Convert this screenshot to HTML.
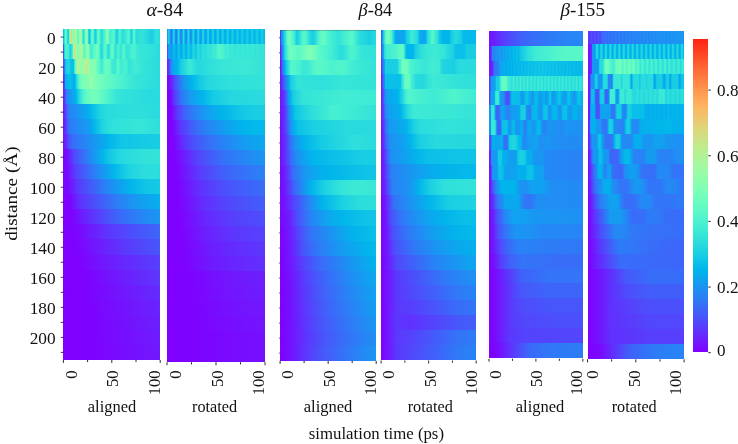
<!DOCTYPE html>
<html lang="en">
<head>
<meta charset="utf-8">
<title>Heatmaps: distance vs simulation time</title>
<style>
html,body{margin:0;padding:0;background:#fff;}
body{width:738px;height:444px;overflow:hidden;position:relative;font-family:"Liberation Serif",serif;}
#fig{position:absolute;left:0;top:0;width:738px;height:444px;background:#fff;overflow:hidden;}
.r{position:absolute;}
.ov{position:absolute;left:0;top:0;}
</style>
</head>
<body>
<div id="fig">
<div class="r" style="left:63.40px;top:29.30px;width:96.80px;height:15.61px;background:linear-gradient(90deg,#00b4ec 0%,#19cee3 1.031%,#2ddfdc 1.546%,#52f5cc 2.062%,#66fcc2 2.577%,#60fac5 3.093%,#3ce9d6 4.124%,#29dcdd 4.639%,#1cd1e2 5.155%,#1cd1e2 5.67%,#39e7d7 6.186%,#69fdc0 6.701%,#9efba3 7.216%,#c9e587 7.732%,#dbd77b 8.247%,#d2de81 8.763%,#a1faa1 9.794%,#8afeaf 10.31%,#80ffb4 10.82%,#85ffb1 11.34%,#b0f498 12.89%,#b1f397 13.4%,#9efba3 13.92%,#80ffb4 14.43%,#64fbc3 14.95%,#57f7c9 15.46%,#5ffac5 15.98%,#90feab 17.01%,#a8f79d 17.53%,#b2f396 18.04%,#a8f79c 18.56%,#8dfead 19.07%,#69fdc0 19.59%,#47efd1 20.1%,#2ee0db 20.62%,#2adcdd 21.13%,#34e4d9 21.65%,#48f0d0 22.16%,#61fbc4 22.68%,#8efeac 23.71%,#98fca6 24.23%,#92fdaa 24.74%,#75feba 25.26%,#4ef3ce 25.77%,#27dade 26.29%,#0ec3e7 26.8%,#0cc1e8 27.32%,#18cde4 27.84%,#43eed3 28.87%,#57f7c9 29.38%,#64fbc3 29.9%,#65fcc3 30.41%,#5bf9c7 30.93%,#39e7d7 31.96%,#1cd1e2 32.99%,#1acfe3 33.51%,#22d6e0 34.02%,#54f6cb 35.57%,#61fbc4 36.08%,#66fcc2 36.6%,#62fbc4 37.11%,#3ce9d6 38.66%,#29dcdd 39.69%,#2adcdd 40.21%,#49f1d0 42.27%,#50f4cd 43.3%,#7dffb6 44.85%,#88ffb0 45.36%,#89ffaf 45.88%,#7effb5 46.39%,#4bf2cf 47.94%,#43edd3 48.45%,#49f1d0 50%,#56f7ca 52.06%,#56f7ca 52.58%,#3febd4 53.61%,#21d5e0 54.64%,#1acfe3 55.15%,#1cd0e2 55.67%,#2edfdb 56.7%,#44eed2 57.73%,#4bf2cf 58.25%,#4cf2cf 58.76%,#3febd4 59.79%,#2ddfdc 60.82%,#29dcdd 61.34%,#3dead5 64.95%,#57f7ca 67.53%,#54f6cb 68.04%,#39e8d7 69.07%,#1ed2e2 70.1%,#1acee3 70.62%,#21d5e0 71.13%,#43eed3 72.16%,#52f5cc 72.68%,#57f7ca 73.2%,#52f5cc 73.71%,#30e1db 75.26%,#29dcdd 75.77%,#33e3d9 80.93%,#21d5e0 88.66%,#1acee3 91.75%,#25d9df 93.81%,#33e3d9 95.88%,#29dbde 100%)"></div>
<div class="r" style="left:63.40px;top:44.31px;width:96.80px;height:15.61px;background:linear-gradient(90deg,#4c4ffc 0%,#445bfb 0.5155%,#366ff9 1.031%,#22d6e0 1.546%,#43eed2 2.062%,#4cf3ce 3.608%,#42edd3 5.67%,#3ae8d6 6.186%,#1bd0e3 7.216%,#1bd0e3 7.732%,#2edfdb 8.763%,#33e3d9 9.278%,#43eed2 9.794%,#6cfdbf 10.31%,#9dfba3 10.82%,#c4e98a 11.34%,#d1e082 11.86%,#cbe486 12.37%,#adf599 13.4%,#8cfead 14.43%,#82ffb3 14.95%,#80ffb4 15.46%,#8dfeac 16.49%,#acf59a 18.04%,#b2f396 18.56%,#b1f397 19.07%,#a4f99f 19.59%,#79ffb8 20.62%,#65fcc3 21.13%,#58f8c9 21.65%,#58f7c9 22.16%,#6cfdbf 23.2%,#94fda9 24.74%,#99fca6 25.26%,#95fda8 25.77%,#7affb7 26.8%,#47f0d1 28.35%,#3eebd5 28.87%,#42edd3 29.9%,#59f8c9 31.44%,#63fbc3 33.51%,#70febd 35.57%,#6efdbe 36.08%,#59f8c8 37.11%,#30e1db 38.66%,#27dade 39.18%,#24d7df 39.69%,#27dade 40.21%,#50f4cd 42.27%,#5cf9c7 43.3%,#53f6cb 44.33%,#2ddfdc 46.39%,#29dcdd 46.91%,#2bdddd 47.42%,#3eebd5 48.45%,#58f7c9 49.48%,#66fcc2 50.52%,#64fbc3 51.03%,#52f5cc 52.06%,#32e3da 53.61%,#2ee0db 54.12%,#37e6d8 55.15%,#48f0d0 56.19%,#4bf2cf 57.22%,#33e3d9 59.79%,#36e6d8 60.31%,#4ef3cd 61.34%,#56f7ca 61.86%,#52f5cc 62.89%,#35e5d8 65.46%,#36e6d8 67.53%,#4cf2cf 71.65%,#49f1d0 73.71%,#38e7d7 77.32%,#2ee0db 93.81%,#29dbde 100%)"></div>
<div class="r" style="left:63.40px;top:59.33px;width:96.80px;height:15.61px;background:linear-gradient(90deg,#573ffd 0%,#4e4cfc 0.5155%,#3e64fa 1.031%,#3373f8 1.546%,#02b2ec 2.062%,#10c5e6 2.577%,#24d7df 5.67%,#1bd0e3 6.701%,#0dc2e7 7.732%,#0abfe8 10.31%,#0bc0e8 10.82%,#1bd0e3 11.34%,#3ae8d7 11.86%,#58f7c9 12.37%,#66fcc2 12.89%,#6efebe 13.4%,#9dfba3 14.43%,#b3f296 14.95%,#bded8f 15.46%,#b2f396 16.49%,#92fdaa 18.04%,#8bfeae 18.56%,#8dfead 19.59%,#a6f89e 21.65%,#b1f397 23.2%,#bfec8e 24.23%,#c2ea8c 24.74%,#bfec8e 25.26%,#a9f79c 26.29%,#84ffb2 27.84%,#80ffb4 28.87%,#8afeaf 32.47%,#83ffb2 33.51%,#5efac6 36.08%,#56f7ca 37.63%,#3eebd5 39.69%,#3dead5 40.21%,#49f1d0 41.24%,#62fbc4 42.78%,#66fcc2 43.81%,#64fbc3 47.94%,#40ecd4 50.52%,#38e7d7 53.61%,#40ecd4 54.64%,#58f7c9 56.19%,#5cf9c7 56.7%,#55f6ca 57.73%,#3dead5 59.79%,#4cf2ce 63.92%,#46efd1 65.46%,#35e4d9 67.53%,#36e6d8 70.1%,#42edd3 74.23%,#33e3d9 83.51%,#29dbde 100%)"></div>
<div class="r" style="left:63.40px;top:74.34px;width:96.80px;height:15.61px;background:linear-gradient(90deg,#7018ff 0%,#425efa 2.062%,#01b4ec 2.577%,#0abfe8 7.216%,#00b4ec 9.794%,#09aaee 11.86%,#05aeed 12.37%,#09bee9 12.89%,#32e3da 14.43%,#5df9c6 17.01%,#6efebe 18.56%,#7fffb5 20.62%,#80ffb4 25.77%,#99fca6 28.35%,#7fffb5 32.47%,#5af8c8 51.03%,#37e6d8 74.23%,#29dbde 100%)"></div>
<div class="r" style="left:63.40px;top:89.35px;width:96.80px;height:15.61px;background:linear-gradient(90deg,#7018ff 0%,#573ffd 2.062%,#2982f6 3.608%,#02b2ec 12.89%,#00b4ec 13.4%,#1ed3e1 15.98%,#46efd1 20.1%,#61fac5 23.71%,#73febb 30.93%,#73febb 34.02%,#52f5cc 45.36%,#3ae8d7 53.61%,#31e2da 61.86%,#29dbde 89.18%,#29dbde 100%)"></div>
<div class="r" style="left:63.40px;top:104.37px;width:96.80px;height:15.61px;background:linear-gradient(90deg,#7510ff 0%,#6130fe 2.062%,#3d65fa 4.124%,#2982f6 6.186%,#0ca6ef 23.71%,#00b4ec 27.32%,#21d5e0 38.66%,#29dcdd 45.36%,#2edfdb 76.29%,#29dbde 100%)"></div>
<div class="r" style="left:63.40px;top:119.38px;width:96.80px;height:15.61px;background:linear-gradient(90deg,#7510ff 0%,#6130fe 2.577%,#425efb 4.639%,#2e7bf7 7.216%,#139ff1 27.32%,#01b5eb 31.96%,#21d5e1 41.24%,#2ee0db 48.45%,#37e6d8 79.9%,#2edfdb 100%)"></div>
<div class="r" style="left:63.40px;top:134.40px;width:96.80px;height:15.61px;background:linear-gradient(90deg,#7510ff 0%,#6628fe 3.093%,#4d4ffc 5.67%,#376ef9 9.794%,#09aaee 43.3%,#01b6eb 47.94%,#10c5e7 59.79%,#19cee3 100%)"></div>
<div class="r" style="left:63.40px;top:149.41px;width:96.80px;height:15.61px;background:linear-gradient(90deg,#7a08ff 0%,#7a08ff 3.093%,#4b51fc 12.89%,#1d91f3 30.41%,#05afed 39.18%,#01b5eb 40.72%,#0fc4e7 45.88%,#25d8df 58.25%,#32e2da 84.02%,#33e3d9 100%)"></div>
<div class="r" style="left:63.40px;top:164.42px;width:96.80px;height:15.61px;background:linear-gradient(90deg,#7a08ff 0%,#7a08ff 4.124%,#5641fd 12.89%,#2e7bf7 30.93%,#07adee 48.97%,#01b5eb 52.06%,#1cd1e2 66.49%,#2adcdd 80.93%,#2cdedc 95.88%,#29dbde 100%)"></div>
<div class="r" style="left:63.40px;top:179.44px;width:96.80px;height:15.61px;background:linear-gradient(90deg,#7a08ff 0%,#7a08ff 5.155%,#5b39fd 14.95%,#2488f5 46.39%,#00b5eb 69.59%,#10c5e6 85.05%,#14c9e5 100%)"></div>
<div class="r" style="left:63.40px;top:194.45px;width:96.80px;height:15.61px;background:linear-gradient(90deg,#8000ff 0%,#7e02ff 6.701%,#6031fe 17.01%,#2d7df7 55.15%,#149df1 78.35%,#05afed 100%)"></div>
<div class="r" style="left:63.40px;top:209.46px;width:96.80px;height:15.61px;background:linear-gradient(90deg,#8000ff 0%,#7f01ff 8.763%,#6529fe 25.26%,#3e64fa 55.67%,#218cf4 86.6%,#1a96f3 100%)"></div>
<div class="r" style="left:63.40px;top:224.48px;width:96.80px;height:15.61px;background:linear-gradient(90deg,#8000ff 0%,#7d03ff 12.37%,#5c37fe 47.42%,#445bfb 84.54%,#3d65fa 100%)"></div>
<div class="r" style="left:63.40px;top:239.49px;width:96.80px;height:15.61px;background:linear-gradient(90deg,#8000ff 0%,#7e03ff 14.95%,#5b39fd 63.92%,#4756fb 100%)"></div>
<div class="r" style="left:63.40px;top:254.50px;width:96.80px;height:15.61px;background:linear-gradient(90deg,#8000ff 0%,#7e02ff 17.53%,#6d1dff 47.94%,#5b38fd 87.11%,#573ffd 100%)"></div>
<div class="r" style="left:63.40px;top:269.52px;width:96.80px;height:15.61px;background:linear-gradient(90deg,#8000ff 0%,#7e02ff 23.71%,#5c38fd 100%)"></div>
<div class="r" style="left:63.40px;top:284.53px;width:96.80px;height:15.61px;background:linear-gradient(90deg,#8000ff 0%,#7e02ff 24.74%,#632cfe 100%)"></div>
<div class="r" style="left:63.40px;top:299.55px;width:96.80px;height:15.61px;background:linear-gradient(90deg,#8000ff 0%,#7d03ff 28.35%,#6924fe 100%)"></div>
<div class="r" style="left:63.40px;top:314.56px;width:96.80px;height:15.61px;background:linear-gradient(90deg,#8000ff 0%,#7d03ff 28.87%,#6b20fe 100%)"></div>
<div class="r" style="left:63.40px;top:329.57px;width:96.80px;height:15.61px;background:linear-gradient(90deg,#8000ff 0%,#7d03ff 30.41%,#6e1cff 100%)"></div>
<div class="r" style="left:63.40px;top:344.59px;width:96.80px;height:15.01px;background:linear-gradient(90deg,#8000ff 0%,#7d03ff 31.96%,#7018ff 100%)"></div>
<div class="r" style="left:167.00px;top:29.15px;width:98.00px;height:15.72px;background:linear-gradient(90deg,#3078f7 0%,#169af2 0.5102%,#07bbea 1.02%,#1bcfe3 1.531%,#1fd3e1 2.041%,#11c6e6 2.551%,#09aaee 3.061%,#2489f5 3.571%,#3670f8 4.082%,#376ef9 4.592%,#2784f6 5.102%,#0da6ef 5.612%,#0ec4e7 6.122%,#1fd3e1 6.633%,#1fd4e1 7.143%,#0fc4e7 7.653%,#0ba8ef 8.163%,#2489f5 8.673%,#3275f8 9.184%,#3079f7 9.694%,#1e91f4 10.2%,#03b1ed 10.71%,#15cbe5 11.22%,#23d6e0 11.73%,#20d4e1 12.24%,#0ec3e7 12.76%,#0ca7ef 13.27%,#238af5 13.78%,#2d7cf7 14.29%,#2883f6 14.8%,#149cf1 15.31%,#06baea 15.82%,#1bd0e2 16.33%,#25d8df 16.84%,#1fd3e1 17.35%,#0cc1e8 17.86%,#0da6ef 18.37%,#208ef4 18.88%,#2784f6 19.39%,#1f8ff4 19.9%,#0ba8ef 20.41%,#0dc2e8 20.92%,#1fd3e1 21.43%,#25d8df 21.94%,#1cd1e2 22.45%,#09bee9 22.96%,#0da5ef 23.47%,#1d91f3 23.98%,#218cf4 24.49%,#1799f2 25%,#04b0ed 25.51%,#11c7e6 26.02%,#20d4e1 26.53%,#23d6e0 27.04%,#18cde4 27.55%,#06baea 28.06%,#0ea4f0 28.57%,#1a95f3 29.08%,#1b94f3 29.59%,#10a2f0 30.1%,#02b7eb 30.61%,#15cae5 31.12%,#20d4e1 31.63%,#20d4e1 32.14%,#15cae5 32.65%,#03b8eb 33.16%,#0ea4ef 33.67%,#1799f2 34.18%,#169bf2 34.69%,#0aa9ee 35.2%,#08bde9 35.71%,#18cde4 36.22%,#20d5e1 36.73%,#1ed3e2 37.24%,#02b6eb 38.27%,#0da5ef 38.78%,#149df1 39.29%,#10a1f0 39.8%,#04b0ed 40.31%,#0cc2e8 40.82%,#1acfe3 41.33%,#20d4e1 41.84%,#1cd1e2 42.35%,#01b5eb 43.37%,#0ba7ef 43.88%,#10a2f0 44.39%,#0ba8ef 44.9%,#02b6eb 45.41%,#10c6e6 45.92%,#1cd0e2 46.43%,#1fd3e1 46.94%,#1acfe3 47.45%,#01b5eb 48.47%,#09aaee 48.98%,#0ba7ef 49.49%,#05aeed 50%,#07bcea 50.51%,#1cd1e2 51.53%,#1ed2e2 52.04%,#18cde4 52.55%,#00b5ec 53.57%,#07acee 54.08%,#08abee 54.59%,#01b3ec 55.1%,#15cae5 56.12%,#1cd0e2 56.63%,#1cd0e2 57.14%,#0abfe8 58.16%,#00b4ec 58.67%,#06aded 59.18%,#05aeed 59.69%,#02b6eb 60.2%,#16cbe4 61.22%,#1bd0e3 61.73%,#12c7e6 62.76%,#00b4ec 63.78%,#04afed 64.29%,#05baea 65.31%,#16cbe4 66.33%,#17cce4 67.35%,#00b4ec 68.88%,#01b5eb 69.9%,#16cbe4 71.43%,#15cae5 72.45%,#00b5eb 73.98%,#01b3ec 74.49%,#09bfe9 75.51%,#17cce4 76.53%,#14c9e5 77.55%,#00b5eb 79.08%,#00b4ec 79.59%,#17cce4 81.63%,#13c8e6 82.65%,#01b5eb 84.18%,#06bbea 85.2%,#14c9e5 86.22%,#16cbe4 87.24%,#01b6eb 89.29%,#08bde9 90.31%,#15cae5 91.33%,#15cbe5 92.35%,#04b9ea 93.88%,#02b6eb 94.39%,#09bfe9 95.41%,#15cae5 96.43%,#15cae5 97.45%,#04b8ea 98.98%,#05baea 100%)"></div>
<div class="r" style="left:167.00px;top:44.27px;width:98.00px;height:15.72px;background:linear-gradient(90deg,#6628fe 0%,#3276f8 1.02%,#139ef1 1.531%,#0ba8ef 2.551%,#169bf2 3.571%,#1b94f3 4.082%,#1b94f3 4.592%,#159bf1 5.102%,#01b5eb 6.122%,#0bc0e8 7.143%,#00b4ec 8.163%,#0fa3f0 9.184%,#0fa2f0 9.694%,#01b3ec 10.71%,#0ec4e7 11.73%,#0fc5e7 12.24%,#03b8eb 13.27%,#09aaee 14.29%,#09aaee 14.8%,#03b1ec 15.31%,#06bbea 15.82%,#15cae5 16.84%,#10c5e7 17.86%,#01b6eb 18.88%,#02b2ec 19.39%,#00b4ec 19.9%,#18cde4 21.43%,#1bd0e3 22.45%,#08bde9 23.98%,#09bee9 25%,#20d4e1 26.53%,#24d7df 27.04%,#1dd2e2 28.06%,#13c8e6 29.08%,#16cbe4 30.1%,#2adcdd 31.63%,#2adddd 32.65%,#1ed2e2 34.18%,#22d5e0 35.2%,#2fe1db 36.73%,#2bdddd 38.27%,#27dade 39.8%,#35e4d9 41.84%,#31e2da 44.9%,#3eebd5 46.94%,#3be9d6 49.49%,#53f5cb 52.04%,#55f6ca 53.57%,#4ef3ce 55.1%,#4ef3ce 57.14%,#3dead5 59.69%,#42edd3 62.24%,#36e6d8 64.8%,#3ce9d6 67.35%,#34e4d9 69.39%,#3be9d6 72.45%,#35e5d9 75%,#3be9d6 77.55%,#35e4d9 79.59%,#3be9d6 82.14%,#34e4d9 84.69%,#3ae8d7 87.24%,#33e3d9 89.8%,#38e7d7 92.35%,#32e2da 94.9%,#36e5d8 97.45%,#31e2da 100%)"></div>
<div class="r" style="left:167.00px;top:59.40px;width:98.00px;height:15.73px;background:linear-gradient(90deg,#7018ff 0%,#573ffd 2.041%,#2489f5 4.082%,#0fa3f0 6.122%,#01b3ec 10.71%,#16cbe4 13.78%,#3dead5 23.47%,#24d8df 31.12%,#37e6d8 54.59%,#3ce9d6 80.1%,#33e3d9 100%)"></div>
<div class="r" style="left:167.00px;top:74.53px;width:98.00px;height:15.72px;background:linear-gradient(90deg,#8000ff 0%,#7510ff 3.061%,#4a53fc 8.673%,#1996f3 17.35%,#00b5eb 25.51%,#15cae5 33.67%,#25d8df 42.35%,#2ee0db 60.71%,#33e3d9 100%)"></div>
<div class="r" style="left:167.00px;top:89.65px;width:98.00px;height:15.72px;background:linear-gradient(90deg,#8000ff 0%,#8000ff 3.061%,#5444fd 8.673%,#3176f8 14.8%,#179af2 23.98%,#01b5eb 36.22%,#16cbe4 47.45%,#25d8df 65.31%,#29dbde 93.88%,#29dbde 100%)"></div>
<div class="r" style="left:167.00px;top:104.78px;width:98.00px;height:15.72px;background:linear-gradient(90deg,#8000ff 0%,#8000ff 4.082%,#5a3bfd 10.71%,#3c67fa 18.88%,#1f8ff4 33.67%,#0ca7ef 45.92%,#01b5eb 57.14%,#14c9e5 78.57%,#19cee3 92.86%,#19cee3 100%)"></div>
<div class="r" style="left:167.00px;top:119.90px;width:98.00px;height:15.72px;background:linear-gradient(90deg,#8000ff 0%,#8000ff 5.102%,#5e34fe 13.27%,#425ffa 25.51%,#2b7ff6 38.27%,#09aaee 67.35%,#00b5eb 78.57%,#05baea 100%)"></div>
<div class="r" style="left:167.00px;top:135.03px;width:98.00px;height:15.72px;background:linear-gradient(90deg,#8000ff 0%,#8000ff 6.122%,#612ffe 16.33%,#4a52fc 27.04%,#3374f8 45.92%,#169af2 76.02%,#0ba8ef 98.98%,#0aa9ef 100%)"></div>
<div class="r" style="left:167.00px;top:150.15px;width:98.00px;height:15.72px;background:linear-gradient(90deg,#8000ff 0%,#7f01ff 7.653%,#5247fc 32.65%,#3571f8 57.14%,#228bf4 84.18%,#1996f3 100%)"></div>
<div class="r" style="left:167.00px;top:165.28px;width:98.00px;height:15.72px;background:linear-gradient(90deg,#8000ff 0%,#7e02ff 9.184%,#593dfd 33.67%,#4062fa 58.67%,#2e7bf7 88.78%,#2982f6 100%)"></div>
<div class="r" style="left:167.00px;top:180.40px;width:98.00px;height:15.72px;background:linear-gradient(90deg,#8000ff 0%,#7e02ff 10.71%,#5e34fe 35.71%,#4b51fc 59.18%,#3d66fa 88.27%,#386df9 100%)"></div>
<div class="r" style="left:167.00px;top:195.53px;width:98.00px;height:15.72px;background:linear-gradient(90deg,#8000ff 0%,#7e02ff 11.73%,#622efe 37.76%,#5148fc 62.76%,#445bfb 94.39%,#425efa 100%)"></div>
<div class="r" style="left:167.00px;top:210.65px;width:98.00px;height:15.72px;background:linear-gradient(90deg,#8000ff 0%,#7e02ff 13.27%,#6727fe 39.29%,#583efd 65.82%,#4c4ffc 100%)"></div>
<div class="r" style="left:167.00px;top:225.78px;width:98.00px;height:15.72px;background:linear-gradient(90deg,#8000ff 0%,#7e02ff 14.8%,#6a22fe 40.82%,#5d36fe 68.88%,#5443fd 100%)"></div>
<div class="r" style="left:167.00px;top:240.90px;width:98.00px;height:15.72px;background:linear-gradient(90deg,#8000ff 0%,#7e02ff 16.33%,#6c1eff 44.9%,#612ffe 74.49%,#5c38fd 100%)"></div>
<div class="r" style="left:167.00px;top:256.02px;width:98.00px;height:15.72px;background:linear-gradient(90deg,#8000ff 0%,#7e02ff 17.86%,#6f1aff 45.92%,#642bfe 83.16%,#6130fe 100%)"></div>
<div class="r" style="left:167.00px;top:271.15px;width:98.00px;height:15.72px;background:linear-gradient(90deg,#8000ff 0%,#7e02ff 23.98%,#7215ff 57.65%,#6b20fe 100%)"></div>
<div class="r" style="left:167.00px;top:286.27px;width:98.00px;height:15.72px;background:linear-gradient(90deg,#8000ff 0%,#7e02ff 24.49%,#7314ff 62.24%,#6e1cff 100%)"></div>
<div class="r" style="left:167.00px;top:301.40px;width:98.00px;height:15.72px;background:linear-gradient(90deg,#8000ff 0%,#7d03ff 27.04%,#7412ff 67.35%,#7018ff 100%)"></div>
<div class="r" style="left:167.00px;top:316.52px;width:98.00px;height:15.72px;background:linear-gradient(90deg,#8000ff 0%,#7d03ff 28.57%,#7511ff 77.55%,#7314ff 100%)"></div>
<div class="r" style="left:167.00px;top:331.65px;width:98.00px;height:15.72px;background:linear-gradient(90deg,#8000ff 0%,#7d03ff 30.61%,#760eff 83.67%,#7510ff 100%)"></div>
<div class="r" style="left:167.00px;top:346.77px;width:98.00px;height:15.12px;background:linear-gradient(90deg,#8000ff 0%,#7d03ff 30.61%,#760eff 83.67%,#7510ff 100%)"></div>
<div class="r" style="left:280.10px;top:30.30px;width:96.10px;height:15.62px;background:linear-gradient(90deg,#6628fe 0%,#5a3afd 0.5208%,#2586f5 1.562%,#1996f3 2.083%,#11a0f0 2.604%,#00b4ec 3.125%,#12c7e6 3.646%,#1acee3 4.167%,#1cd1e2 4.688%,#30e1db 5.729%,#5af8c8 7.292%,#70febd 8.333%,#75feba 9.375%,#62fbc4 11.46%,#4ef3ce 13.54%,#4af1d0 14.58%,#2ddfdc 16.15%,#1cd1e2 17.19%,#1acfe3 18.23%,#2cdedc 20.31%,#50f4cd 23.44%,#57f7c9 25%,#4ef3cd 27.08%,#1fd4e1 32.29%,#1acfe3 34.38%,#24d8df 36.46%,#50f4cd 40.62%,#64fbc3 43.23%,#65fcc3 45.31%,#43eed2 53.13%,#3ce9d6 56.77%,#33e3d9 60.94%,#41edd3 66.67%,#56f7ca 73.44%,#54f6cb 76.04%,#37e6d8 80.21%,#29dcdd 82.81%,#20d4e1 88.54%,#1acfe3 93.23%,#29dbde 100%)"></div>
<div class="r" style="left:280.10px;top:45.32px;width:96.10px;height:15.62px;background:linear-gradient(90deg,#7018ff 0%,#6a22fe 0.5208%,#5a3bfd 1.042%,#3078f7 2.083%,#208ef4 2.604%,#0fa3f0 3.646%,#08bde9 4.167%,#1fd3e1 4.688%,#29dbde 5.208%,#30e1db 6.25%,#57f7c9 8.333%,#69fdc0 9.375%,#70febd 10.42%,#67fcc1 14.58%,#5cf9c7 19.27%,#64fbc3 22.92%,#7effb5 29.69%,#7cffb6 33.33%,#59f8c9 41.15%,#4ef3ce 47.92%,#42edd3 54.17%,#37e6d8 58.33%,#29dcdd 63.02%,#30e1db 66.67%,#4bf2cf 73.44%,#49f1d0 77.6%,#33e4d9 85.42%,#33e3d9 100%)"></div>
<div class="r" style="left:280.10px;top:60.33px;width:96.10px;height:15.62px;background:linear-gradient(90deg,#7510ff 0%,#7116ff 0.5208%,#6726fe 1.042%,#366ff9 2.604%,#2883f6 3.125%,#1d91f3 3.646%,#149df1 4.688%,#07acee 5.208%,#08bde9 5.729%,#14c9e5 6.25%,#1acee3 6.771%,#20d4e1 7.812%,#4af1d0 10.42%,#57f7c9 11.98%,#47f0d1 20.83%,#38e7d7 24.48%,#3febd4 29.17%,#5af8c8 37.5%,#5af8c8 42.71%,#4df3ce 53.65%,#51f5cc 66.15%,#3dead5 78.12%,#33e3d9 100%)"></div>
<div class="r" style="left:280.10px;top:75.35px;width:96.10px;height:15.62px;background:linear-gradient(90deg,#7510ff 0%,#2d7cf7 5.729%,#02b3ec 9.375%,#0cc1e8 10.42%,#1acee3 11.46%,#33e3d9 18.23%,#2fe0db 44.27%,#37e6d8 64.06%,#33e3d9 100%)"></div>
<div class="r" style="left:280.10px;top:90.36px;width:96.10px;height:15.62px;background:linear-gradient(90deg,#7510ff 0%,#6628fe 3.125%,#4757fb 6.25%,#218cf4 8.333%,#0fa3f0 9.375%,#00b4ec 10.94%,#1acee3 13.54%,#33e3d9 23.44%,#42edd3 66.15%,#3dead5 100%)"></div>
<div class="r" style="left:280.10px;top:105.38px;width:96.10px;height:15.62px;background:linear-gradient(90deg,#7510ff 0%,#6b20fe 3.125%,#5247fc 6.25%,#2e7bf7 8.854%,#1996f2 10.42%,#01b3ec 13.54%,#0fc5e7 15.62%,#29dcdd 30.21%,#47f0d1 55.21%,#33e3d9 100%)"></div>
<div class="r" style="left:280.10px;top:120.40px;width:96.10px;height:15.62px;background:linear-gradient(90deg,#7a08ff 0%,#632dfe 4.167%,#5247fc 6.25%,#1996f3 11.46%,#01b6eb 16.15%,#0bc0e8 18.23%,#1cd0e2 35.42%,#27dade 67.19%,#29dbde 100%)"></div>
<div class="r" style="left:280.10px;top:135.41px;width:96.10px;height:15.62px;background:linear-gradient(90deg,#7a08ff 0%,#5c38fd 6.25%,#3571f8 10.94%,#1d91f3 15.1%,#00b4ec 25%,#15cbe5 42.71%,#2edfdc 77.6%,#29dbde 100%)"></div>
<div class="r" style="left:280.10px;top:150.43px;width:96.10px;height:15.62px;background:linear-gradient(90deg,#7a08ff 0%,#583dfd 6.771%,#3670f8 11.98%,#1d91f3 18.23%,#00b5ec 32.81%,#19cee3 86.98%,#19cee3 100%)"></div>
<div class="r" style="left:280.10px;top:165.44px;width:96.10px;height:15.62px;background:linear-gradient(90deg,#7a08ff 0%,#7314ff 3.646%,#5a3afd 8.333%,#386df9 13.54%,#1898f2 26.04%,#04b0ed 41.67%,#01b6eb 53.65%,#0fc4e7 92.71%,#0fc4e7 100%)"></div>
<div class="r" style="left:280.10px;top:180.46px;width:96.10px;height:15.62px;background:linear-gradient(90deg,#7a08ff 0%,#7116ff 4.167%,#5b39fd 9.375%,#3b68f9 15.1%,#00b4ec 32.29%,#1ed3e2 47.4%,#35e4d9 64.06%,#3dead5 79.69%,#38e7d7 100%)"></div>
<div class="r" style="left:280.10px;top:195.47px;width:96.10px;height:15.62px;background:linear-gradient(90deg,#7a08ff 0%,#7313ff 4.688%,#5443fd 14.06%,#208df4 32.29%,#00b4ec 44.27%,#1cd1e2 64.58%,#2adcdd 81.77%,#2edfdb 100%)"></div>
<div class="r" style="left:280.10px;top:210.49px;width:96.10px;height:15.62px;background:linear-gradient(90deg,#7a08ff 0%,#7116ff 7.292%,#6923fe 10.94%,#4b51fc 18.23%,#2784f6 32.29%,#0da6ef 49.48%,#01b6eb 64.58%,#0fc4e7 91.15%,#0fc4e7 100%)"></div>
<div class="r" style="left:280.10px;top:225.51px;width:96.10px;height:15.62px;background:linear-gradient(90deg,#8000ff 0%,#6c1eff 10.94%,#4954fb 22.4%,#3276f8 33.33%,#09aaee 69.27%,#01b5eb 79.17%,#0abfe8 100%)"></div>
<div class="r" style="left:280.10px;top:240.52px;width:96.10px;height:15.62px;background:linear-gradient(90deg,#8000ff 0%,#7314ff 8.854%,#652afe 14.58%,#4a52fc 23.44%,#3176f8 36.98%,#159cf1 64.58%,#00b5eb 92.19%,#05baea 100%)"></div>
<div class="r" style="left:280.10px;top:255.54px;width:96.10px;height:15.62px;background:linear-gradient(90deg,#8000ff 0%,#6e1cff 12.5%,#5246fd 25.52%,#3a6af9 41.67%,#11a0f0 82.81%,#00b4ec 100%)"></div>
<div class="r" style="left:280.10px;top:270.55px;width:96.10px;height:15.62px;background:linear-gradient(90deg,#8000ff 0%,#7411ff 10.42%,#573ffd 26.56%,#3f63fa 44.27%,#228bf5 71.88%,#0aa9ef 100%)"></div>
<div class="r" style="left:280.10px;top:285.57px;width:96.10px;height:15.62px;background:linear-gradient(90deg,#8000ff 0%,#7411ff 10.42%,#593bfd 26.04%,#4062fa 45.83%,#2587f5 73.44%,#0fa3f0 100%)"></div>
<div class="r" style="left:280.10px;top:300.59px;width:96.10px;height:15.62px;background:linear-gradient(90deg,#8000ff 0%,#7411ff 10.42%,#583efd 28.65%,#4160fa 47.4%,#2785f6 76.56%,#149cf1 100%)"></div>
<div class="r" style="left:280.10px;top:315.60px;width:96.10px;height:15.62px;background:linear-gradient(90deg,#8000ff 0%,#7411ff 10.42%,#5a3bfd 28.65%,#455bfb 46.88%,#2b7ff6 76.56%,#1a96f3 100%)"></div>
<div class="r" style="left:280.10px;top:330.62px;width:96.10px;height:15.62px;background:linear-gradient(90deg,#8000ff 0%,#7411ff 10.42%,#5a3afd 29.69%,#4758fb 47.92%,#2d7cf7 79.17%,#1f8ff4 100%)"></div>
<div class="r" style="left:280.10px;top:345.63px;width:96.10px;height:15.02px;background:linear-gradient(90deg,#8000ff 0%,#7411ff 10.42%,#5a3bfd 28.65%,#455bfb 46.88%,#2b7ff6 76.56%,#1a96f3 100%)"></div>
<div class="r" style="left:381.10px;top:30.30px;width:95.10px;height:14.50px;background:linear-gradient(90deg,#4c4ffc 0%,#3f62fa 0.5263%,#2785f6 1.053%,#08abee 2.105%,#18cde4 2.632%,#29dbde 3.158%,#32e3da 3.684%,#5df9c7 4.737%,#66fcc2 5.263%,#70febd 6.316%,#7effb5 7.368%,#7fffb5 7.895%,#6efebe 8.947%,#5af8c8 10%,#52f5cc 11.05%,#38e6d7 12.11%,#1ed2e2 13.16%,#13c8e6 14.21%,#05b9ea 14.74%,#09aaee 15.26%,#0fa3f0 15.79%,#0fa3f0 24.21%,#04b0ed 25.26%,#06baea 25.79%,#17cce4 26.84%,#21d5e0 28.95%,#3ae8d7 31.58%,#3be9d6 33.68%,#29dcdd 37.37%,#25d9df 38.42%,#03b7eb 40.53%,#00b4ec 41.05%,#0fa3f0 43.16%,#0fa3f0 46.32%,#0aa8ef 46.84%,#00b5eb 47.37%,#1bd0e3 48.42%,#25d9df 48.95%,#34e4d9 51.05%,#50f4cd 53.16%,#57f7ca 54.21%,#4ef3cd 55.79%,#34e4d9 58.42%,#30e1db 59.47%,#11c7e6 61.58%,#00b4ec 65.26%,#00b4ec 71.58%,#07bce9 72.63%,#18cde4 74.21%,#29dbde 78.95%,#17cce4 84.74%,#06bbea 86.84%,#05baea 100%)"></div>
<div class="r" style="left:381.10px;top:44.20px;width:95.10px;height:15.63px;background:linear-gradient(90deg,#573ffd 0%,#4d4efc 0.5263%,#238af5 1.579%,#1996f3 2.105%,#08abee 2.632%,#18cde4 3.158%,#29dbde 3.684%,#32e2da 4.737%,#40ecd4 5.789%,#50f4cd 16.84%,#60fac5 19.47%,#61fac4 23.16%,#59f8c8 23.68%,#47f0d1 24.21%,#20d4e1 25.26%,#12c7e6 26.32%,#06bbea 26.84%,#00b4ec 27.37%,#00b4ec 33.68%,#0dc2e7 35.26%,#18cde4 36.32%,#29dbde 41.05%,#38e7d7 47.37%,#3dead5 56.84%,#35e5d8 66.32%,#29dbde 69.47%,#1dd1e2 76.32%,#0bc0e8 78.42%,#0cc1e8 87.89%,#19cee3 90%,#19cee3 100%)"></div>
<div class="r" style="left:381.10px;top:59.23px;width:95.10px;height:15.63px;background:linear-gradient(90deg,#6628fe 0%,#6031fe 0.5263%,#5246fd 1.053%,#2d7cf7 2.105%,#1f8ff4 2.632%,#1996f3 3.158%,#0ca6ef 3.684%,#0cc2e8 4.211%,#19cee3 4.737%,#1acee3 16.84%,#24d8df 17.89%,#3febd4 19.47%,#47f0d1 20.53%,#6cfdbf 22.11%,#70febd 23.16%,#70febd 27.37%,#66fcc2 28.42%,#4ff4cd 30%,#42edd3 35.26%,#38e7d7 46.32%,#42edd3 55.26%,#3ce9d6 61.58%,#20d4e1 64.74%,#1acfe3 76.32%,#29dbde 82.11%,#29dbde 100%)"></div>
<div class="r" style="left:381.10px;top:74.26px;width:95.10px;height:15.63px;background:linear-gradient(90deg,#7018ff 0%,#6c1fff 0.5263%,#5247fc 1.579%,#435dfb 2.105%,#376df9 2.632%,#3374f8 3.158%,#238af5 3.684%,#05aeed 4.211%,#0abfe8 4.737%,#0abfe8 20%,#0ec3e7 20.53%,#35e5d9 22.63%,#38e7d7 23.16%,#40ecd4 23.68%,#5ffac5 24.74%,#66fcc2 25.26%,#66fcc2 29.47%,#5cf9c7 30.53%,#45eed2 32.11%,#3ae8d7 34.21%,#2adcdd 36.32%,#24d8df 44.74%,#33e3d9 49.47%,#3dead5 55.26%,#33e3da 77.37%,#2edfdb 100%)"></div>
<div class="r" style="left:381.10px;top:89.29px;width:95.10px;height:15.63px;background:linear-gradient(90deg,#7510ff 0%,#4a53fc 2.632%,#2489f5 4.211%,#0fa3f0 6.316%,#00b4ec 16.84%,#09bee9 19.47%,#20d4e1 22.63%,#41ecd4 25.79%,#52f5cc 28.42%,#3eead5 55.26%,#51f5cc 76.84%,#3dead5 100%)"></div>
<div class="r" style="left:381.10px;top:104.32px;width:95.10px;height:15.63px;background:linear-gradient(90deg,#7510ff 0%,#5247fc 2.632%,#2982f6 4.737%,#149cf1 7.368%,#06aded 18.42%,#00b4ec 21.05%,#21d5e0 26.84%,#36e5d8 31.58%,#3dead5 35.26%,#39e7d7 74.74%,#33e3d9 100%)"></div>
<div class="r" style="left:381.10px;top:119.35px;width:95.10px;height:15.63px;background:linear-gradient(90deg,#7a08ff 0%,#5740fd 3.158%,#3374f8 5.263%,#1996f3 8.421%,#09aaee 22.63%,#01b5eb 26.84%,#1dd2e2 35.26%,#2bdddd 42.11%,#32e3da 73.68%,#2edfdb 100%)"></div>
<div class="r" style="left:381.10px;top:134.38px;width:95.10px;height:15.63px;background:linear-gradient(90deg,#7a08ff 0%,#5c38fd 3.158%,#386df9 5.789%,#1f8ff4 9.474%,#10a2f0 23.68%,#01b5eb 31.05%,#1bcfe3 41.05%,#27dade 57.89%,#25d8df 93.68%,#24d7df 100%)"></div>
<div class="r" style="left:381.10px;top:149.41px;width:95.10px;height:15.63px;background:linear-gradient(90deg,#7a08ff 0%,#6130fe 3.684%,#396cf9 7.368%,#1f8ff4 10.53%,#0ea4f0 27.89%,#01b6eb 38.42%,#0bc0e8 49.47%,#0fc4e7 77.37%,#0fc4e7 100%)"></div>
<div class="r" style="left:381.10px;top:164.44px;width:95.10px;height:15.63px;background:linear-gradient(90deg,#7a08ff 0%,#6130fe 4.211%,#3f63fa 7.895%,#2982f6 11.58%,#08abee 51.58%,#01b5eb 72.63%,#05baea 100%)"></div>
<div class="r" style="left:381.10px;top:179.47px;width:95.10px;height:15.63px;background:linear-gradient(90deg,#7a08ff 0%,#6628fe 4.211%,#3f63fa 8.947%,#2982f6 12.63%,#1c93f3 28.95%,#11a1f0 34.74%,#01b6eb 40.53%,#1cd0e2 52.11%,#2ee0db 66.84%,#33e3d9 98.42%,#33e3d9 100%)"></div>
<div class="r" style="left:381.10px;top:194.50px;width:95.10px;height:15.63px;background:linear-gradient(90deg,#8000ff 0%,#6d1dff 4.737%,#3374f8 13.68%,#01b5eb 51.05%,#1acfe3 72.11%,#1fd3e1 100%)"></div>
<div class="r" style="left:381.10px;top:209.53px;width:95.10px;height:15.63px;background:linear-gradient(90deg,#8000ff 0%,#7018ff 5.263%,#4c4ffc 10.53%,#3177f8 21.05%,#11a1f0 46.84%,#02b2ec 63.16%,#02b7eb 70.53%,#0abfe8 88.42%,#0abfe8 100%)"></div>
<div class="r" style="left:381.10px;top:224.56px;width:95.10px;height:15.63px;background:linear-gradient(90deg,#8000ff 0%,#7018ff 5.789%,#4c4ffc 12.11%,#3176f8 26.84%,#149df1 53.16%,#03b1ec 74.74%,#02b6eb 84.74%,#05baea 100%)"></div>
<div class="r" style="left:381.10px;top:239.59px;width:95.10px;height:15.63px;background:linear-gradient(90deg,#8000ff 0%,#6e1cff 6.842%,#4c50fc 14.74%,#3078f7 34.74%,#1a96f3 58.95%,#09aaee 84.74%,#05afed 100%)"></div>
<div class="r" style="left:381.10px;top:254.62px;width:95.10px;height:15.63px;background:linear-gradient(90deg,#8000ff 0%,#6b20fe 8.421%,#5148fc 16.32%,#2883f6 55.79%,#0fa3f0 93.68%,#0fa3f0 100%)"></div>
<div class="r" style="left:381.10px;top:269.65px;width:95.10px;height:15.63px;background:linear-gradient(90deg,#8000ff 0%,#6e1bff 8.947%,#5b38fd 16.32%,#3078f7 65.79%,#1f8ff4 94.21%,#1f8ff4 100%)"></div>
<div class="r" style="left:381.10px;top:284.68px;width:95.10px;height:15.63px;background:linear-gradient(90deg,#8000ff 0%,#6e1bff 8.947%,#5b38fd 16.32%,#435dfb 52.63%,#3078f7 78.95%,#2982f6 96.84%,#2982f6 100%)"></div>
<div class="r" style="left:381.10px;top:299.71px;width:95.10px;height:15.63px;background:linear-gradient(90deg,#8000ff 0%,#6e1bff 8.947%,#5c38fd 16.32%,#573ffd 33.16%,#396bf9 79.47%,#3374f8 97.37%,#3374f8 100%)"></div>
<div class="r" style="left:381.10px;top:314.74px;width:95.10px;height:15.63px;background:linear-gradient(90deg,#8000ff 0%,#6e1bff 8.947%,#5c38fd 15.79%,#6031fe 31.05%,#4757fb 80.53%,#425efa 98.42%,#425efa 100%)"></div>
<div class="r" style="left:381.10px;top:329.77px;width:95.10px;height:15.63px;background:linear-gradient(90deg,#8000ff 0%,#6e1bff 8.947%,#5c38fd 16.32%,#5345fd 34.74%,#3571f8 78.42%,#2e7bf7 96.32%,#2e7bf7 100%)"></div>
<div class="r" style="left:381.10px;top:344.80px;width:95.10px;height:15.40px;background:linear-gradient(90deg,#8000ff 0%,#6e1bff 8.947%,#5b38fd 16.32%,#435dfb 52.63%,#3078f7 78.95%,#2982f6 96.84%,#2982f6 100%)"></div>
<div class="r" style="left:489.00px;top:31.20px;width:93.80px;height:15.40px;background:linear-gradient(90deg,#7510ff 0%,#5443fd 18.09%,#4061fa 34.57%,#2f79f7 61.17%,#2784f6 83.51%,#2489f5 100%)"></div>
<div class="r" style="left:489.00px;top:46.00px;width:93.80px;height:15.44px;background:linear-gradient(90deg,#7510ff 0%,#642afe 2.128%,#228af5 3.723%,#238af5 4.255%,#2c7df7 5.319%,#2b7ff6 5.851%,#1997f2 7.447%,#1a95f3 7.979%,#2488f5 9.043%,#238af5 9.574%,#159cf1 10.64%,#11a1f0 11.17%,#129ff1 11.7%,#1c92f3 12.77%,#1b93f3 13.3%,#0aa9ee 14.89%,#0ba7ef 15.43%,#159cf1 16.49%,#149cf1 17.02%,#03b1ec 18.62%,#09aaee 19.68%,#0ea4f0 20.21%,#0da5ef 20.74%,#00b4ec 21.81%,#04b9ea 22.34%,#03b1ed 23.4%,#08abee 23.94%,#08acee 24.47%,#02b2ec 25%,#09bee9 26.06%,#08bde9 26.6%,#02b7eb 27.13%,#03b1ec 27.66%,#03b8eb 28.72%,#0fc4e7 29.79%,#03b7eb 31.38%,#03b7eb 31.91%,#11c6e6 32.98%,#2ddfdc 42.02%,#3febd5 49.47%,#57f7c9 80.32%,#57f7c9 100%)"></div>
<div class="r" style="left:489.00px;top:60.84px;width:93.80px;height:15.44px;background:linear-gradient(90deg,#7510ff 0%,#6628fe 3.723%,#3373f8 5.319%,#2981f6 9.574%,#1b95f3 11.17%,#0ba8ef 12.23%,#07acee 12.77%,#0ea4f0 13.83%,#0aa9ee 14.89%,#03b1ec 15.96%,#0ba8ef 18.09%,#00b5ec 19.68%,#08acee 21.81%,#01b5eb 22.87%,#02b7eb 23.94%,#05afed 25%,#01b3ec 26.06%,#06bbea 27.13%,#02b3ec 28.72%,#02b6eb 29.79%,#09bee9 30.85%,#01b6eb 32.98%,#0bc0e8 34.57%,#03b8eb 36.7%,#0dc2e8 38.3%,#05b9ea 40.43%,#0ec4e7 42.02%,#07bbea 44.15%,#10c5e6 45.74%,#08bde9 47.87%,#12c7e6 49.47%,#0abfe8 51.6%,#14c9e5 53.19%,#0bc0e8 55.32%,#13c8e6 56.91%,#0abfe9 59.04%,#12c7e6 60.64%,#09bee9 62.77%,#11c6e6 64.36%,#08bde9 66.49%,#10c5e7 68.09%,#07bce9 70.21%,#0fc4e7 71.81%,#06bbea 73.94%,#0ec3e7 75.53%,#06bbea 77.66%,#0dc2e7 79.26%,#05baea 81.38%,#0cc1e8 83.51%,#04b9ea 85.11%,#0bc1e8 86.7%,#04b8ea 88.83%,#0bc0e8 90.43%,#03b8eb 92.55%,#09bee9 94.68%,#02b7eb 96.28%,#09bee9 97.87%,#02b6eb 100%)"></div>
<div class="r" style="left:489.00px;top:75.68px;width:93.80px;height:15.44px;background:linear-gradient(90deg,#6628fe 0%,#5148fc 1.064%,#1a96f3 2.66%,#0fa2f0 6.383%,#05b9ea 6.915%,#19cee3 7.447%,#19cee3 10.64%,#3febd4 12.23%,#65fcc2 13.83%,#66fcc2 18.09%,#3febd5 20.74%,#38e6d8 21.28%,#40ecd4 22.34%,#3febd4 22.87%,#2ddfdc 23.94%,#2cdedc 24.47%,#3febd5 25.53%,#44eed2 26.06%,#40ecd4 26.6%,#2ddfdc 27.66%,#2cdedc 28.19%,#44eed2 29.79%,#40ecd4 30.32%,#2ddedc 31.38%,#2bdddd 31.91%,#3eead5 32.98%,#43eed2 33.51%,#40ecd4 34.04%,#2cdedc 35.11%,#2bdddd 35.64%,#43edd3 37.23%,#3febd4 37.77%,#2cdedc 38.83%,#2bdddd 39.36%,#42edd3 40.96%,#3febd4 41.49%,#2cdedc 42.55%,#2adddd 43.09%,#42edd3 44.68%,#3febd4 45.21%,#2cdedc 46.28%,#2adddd 46.81%,#41ecd3 48.4%,#3eebd5 48.94%,#2cdedc 50%,#2adcdd 50.53%,#41ecd4 52.13%,#3eebd5 52.66%,#2cdedc 53.72%,#2adcdd 54.26%,#40ecd4 55.85%,#3eead5 56.38%,#2bdedc 57.45%,#29dcdd 57.98%,#40ecd4 59.57%,#3dead5 60.11%,#2bdddd 61.17%,#29dcdd 61.7%,#3febd4 63.3%,#3dead5 63.83%,#2bdddd 64.89%,#29dbde 65.43%,#3febd5 67.02%,#3dead5 67.55%,#2bdddd 68.62%,#28dbde 69.15%,#3eebd5 70.74%,#3ce9d6 71.28%,#2bdddd 72.34%,#28dbde 72.87%,#3eead5 74.47%,#3ce9d6 75%,#2bdddd 76.06%,#28dbde 76.6%,#3dead5 78.19%,#3be9d6 78.72%,#2adddd 79.79%,#28dbde 80.32%,#3dead5 81.91%,#3be9d6 82.45%,#2adddd 83.51%,#27dade 84.04%,#3ce9d6 85.64%,#3be8d6 86.17%,#2adcdd 87.23%,#27dade 87.77%,#3ce9d6 89.36%,#3ae8d6 89.89%,#2adcdd 90.96%,#27dade 91.49%,#3be9d6 93.09%,#3ae8d7 93.62%,#2adcdd 94.68%,#27dade 95.21%,#3ae8d6 96.81%,#39e8d7 97.34%,#29dcdd 98.4%,#26dade 98.94%,#34e4d9 100%)"></div>
<div class="r" style="left:489.00px;top:90.52px;width:93.80px;height:15.44px;background:linear-gradient(90deg,#6628fe 0%,#4d4ffc 1.064%,#0fa3f0 2.128%,#0fa3f0 5.319%,#04b0ed 5.851%,#16cbe4 6.383%,#31e2da 6.915%,#3dead5 7.447%,#3dead5 9.574%,#37e6d8 10.11%,#28dade 10.64%,#02b2ec 11.7%,#129ff1 12.23%,#1996f3 12.77%,#1c93f3 15.43%,#2c7df7 16.49%,#4855fb 18.09%,#4c4ffc 18.62%,#4b51fc 21.28%,#4160fa 21.81%,#0aa8ef 23.4%,#04b9ea 23.94%,#0abfe8 24.47%,#08bde9 32.45%,#02b6eb 32.98%,#06aded 33.51%,#169af2 34.57%,#1897f2 35.64%,#09a9ee 37.23%,#03b1ec 37.77%,#0dc3e7 39.36%,#0dc2e8 40.96%,#01b5eb 42.55%,#1897f2 45.74%,#1898f2 46.81%,#02b6eb 48.94%,#0abfe8 50%,#02b7eb 51.6%,#03b0ed 52.13%,#1898f2 54.26%,#1997f2 55.32%,#02b2ec 57.98%,#02b2ec 59.04%,#149df1 60.11%,#1996f2 60.64%,#149cf1 61.7%,#01b5eb 63.3%,#0dc2e8 64.36%,#0ec3e7 65.43%,#02b2ec 66.49%,#159cf1 67.55%,#1996f2 68.09%,#149df1 69.68%,#01b3ec 71.81%,#0ec3e7 73.94%,#0dc2e8 75.53%,#01b4ec 77.13%,#1898f2 79.79%,#1997f2 80.85%,#00b4ec 82.98%,#0cc1e8 84.04%,#0fc4e7 85.11%,#00b4ec 87.23%,#1898f2 89.89%,#1997f2 90.96%,#11a0f0 92.02%,#04b0ed 93.09%,#02b7eb 93.62%,#0fc4e7 95.21%,#0bc0e8 96.81%,#01b5eb 98.4%,#05afed 100%)"></div>
<div class="r" style="left:489.00px;top:105.36px;width:93.80px;height:15.44px;background:linear-gradient(90deg,#1996f3 0%,#1996f3 1.596%,#1dd1e2 2.128%,#33e3d9 2.66%,#33e3d9 5.319%,#18cde4 5.851%,#04afed 6.383%,#208df4 6.915%,#3c66fa 7.447%,#3d65fa 10.64%,#1a95f3 12.23%,#0aa8ef 14.36%,#2982f6 19.68%,#2982f6 21.81%,#159bf1 23.4%,#0fa2f0 31.91%,#06aded 32.45%,#04b8ea 32.98%,#18cde4 34.04%,#19cee3 38.3%,#0bc1e8 38.83%,#05afed 39.36%,#2685f5 40.43%,#2982f6 43.62%,#2982f6 44.15%,#08abee 45.74%,#03b8eb 46.28%,#05baea 51.06%,#03b1ec 51.6%,#1799f2 52.66%,#1996f3 55.85%,#1996f3 56.38%,#01b3ec 57.45%,#0cc1e8 57.98%,#0fc4e7 61.17%,#0fc4e7 61.7%,#05baea 62.23%,#08abee 62.77%,#169af2 63.3%,#1996f3 64.36%,#1996f3 65.96%,#02b7eb 67.55%,#05baea 70.21%,#05baea 71.81%,#02b2ec 72.34%,#179af2 73.4%,#1996f3 74.47%,#1996f3 76.6%,#05aeed 77.66%,#06bbea 78.19%,#0abfe8 79.26%,#0abfe8 82.45%,#03b8eb 82.98%,#07adee 83.51%,#11a1f0 84.04%,#149cf1 85.11%,#149cf1 87.77%,#02b2ec 89.36%,#00b4ec 93.09%,#0fa3f0 95.21%,#0fa3f0 100%)"></div>
<div class="r" style="left:489.00px;top:120.20px;width:93.80px;height:15.44px;background:linear-gradient(90deg,#1996f3 0%,#1996f3 1.596%,#0fc4e7 2.128%,#38e6d7 2.66%,#3dead5 6.383%,#22d6e0 6.915%,#06bbea 7.447%,#169af2 7.979%,#3275f8 8.511%,#425efa 10.11%,#425efa 11.7%,#03b0ed 13.83%,#0abfe8 14.36%,#0fc4e7 19.15%,#04b9ea 19.68%,#08acee 20.21%,#139ef1 20.74%,#1996f2 22.87%,#06aded 23.94%,#04b9ea 24.47%,#0abfe8 26.6%,#02b7eb 27.13%,#1897f2 28.72%,#1996f3 31.91%,#0ba8ef 33.51%,#0aa9ef 35.64%,#2784f6 37.23%,#2982f6 39.36%,#0ba7ef 41.49%,#0aa9ef 44.15%,#1997f2 46.28%,#1996f3 48.94%,#04b0ed 50.53%,#04b8eb 51.06%,#05baea 54.26%,#03b1ec 54.79%,#218cf4 56.38%,#2685f5 58.51%,#2982f6 60.64%,#1a95f3 62.77%,#1c93f3 68.62%,#1f8ff4 73.94%,#218cf4 76.6%,#2489f5 78.72%,#1a96f3 81.38%,#1f8ff4 100%)"></div>
<div class="r" style="left:489.00px;top:135.04px;width:93.80px;height:15.44px;background:linear-gradient(90deg,#4c4ffc 0%,#4c4ffc 2.128%,#06aeed 3.191%,#05afed 5.319%,#0fa3f0 7.979%,#0da5ef 10.11%,#05afed 12.23%,#07acee 14.36%,#376ef9 15.96%,#386df9 19.15%,#08abee 20.74%,#08bde9 21.28%,#18cde4 21.81%,#23d6e0 26.06%,#1acee3 29.79%,#06bbea 31.38%,#05baea 34.04%,#04b0ed 34.57%,#228bf5 36.17%,#2489f5 39.36%,#159bf1 40.96%,#139ef1 46.28%,#0fa3f0 49.47%,#0fa3f0 51.6%,#1e91f3 53.19%,#1e91f3 57.98%,#1996f3 61.7%,#1c93f3 64.89%,#1f8ff4 69.15%,#2489f5 100%)"></div>
<div class="r" style="left:489.00px;top:149.88px;width:93.80px;height:15.44px;background:linear-gradient(90deg,#7018ff 0%,#6628fe 1.596%,#1a95f3 2.66%,#1996f3 8.511%,#03b1ed 9.043%,#14c9e5 9.574%,#14c9e5 13.3%,#0cc1e8 13.83%,#04b0ed 14.36%,#05afed 19.15%,#149df1 20.74%,#149cf1 28.72%,#01b3ec 29.79%,#13c8e5 30.85%,#1ed2e2 34.04%,#15cae5 38.3%,#01b5eb 40.43%,#05afed 41.49%,#05afed 45.74%,#1898f2 46.81%,#1996f3 57.45%,#2389f5 59.57%,#2982f6 100%)"></div>
<div class="r" style="left:489.00px;top:164.72px;width:93.80px;height:15.44px;background:linear-gradient(90deg,#7018ff 0%,#7018ff 2.128%,#1a95f3 3.191%,#1996f3 8.511%,#0ba8ef 9.043%,#05b9ea 9.574%,#0fc4e7 11.17%,#0abfe8 14.89%,#03b8eb 15.43%,#05afed 15.96%,#149df1 17.02%,#0da5ef 29.26%,#05afed 31.38%,#05afed 38.3%,#02b6eb 39.36%,#0bc0e8 40.96%,#0ec3e7 44.15%,#0abfe8 46.81%,#01b3ec 47.87%,#0ea4f0 48.94%,#0fa3f0 57.45%,#228af5 59.57%,#2982f6 100%)"></div>
<div class="r" style="left:489.00px;top:179.56px;width:93.80px;height:15.44px;background:linear-gradient(90deg,#7a08ff 0%,#7018ff 1.596%,#4d4ffc 3.723%,#2488f5 7.447%,#10a2f0 11.17%,#00b4ec 12.77%,#00b4ec 27.66%,#1a95f3 32.45%,#1d91f3 39.89%,#0fa3f0 44.68%,#10a1f0 57.98%,#1f8ff4 64.89%,#2489f5 100%)"></div>
<div class="r" style="left:489.00px;top:194.40px;width:93.80px;height:15.44px;background:linear-gradient(90deg,#7a08ff 0%,#7018ff 2.128%,#3c68f9 7.979%,#2e7bf7 9.574%,#2489f5 13.83%,#0aa8ef 17.02%,#0aa9ef 30.85%,#2e7af7 37.23%,#3374f8 44.15%,#1f8ff4 51.6%,#228bf5 91.49%,#2489f5 100%)"></div>
<div class="r" style="left:489.00px;top:209.24px;width:93.80px;height:15.44px;background:linear-gradient(90deg,#8000ff 0%,#6c1eff 4.255%,#4d4ffc 8.511%,#2784f6 16.49%,#0fa3f0 25%,#12a0f1 37.23%,#1996f3 50%,#1c93f3 87.77%,#1f8ff4 100%)"></div>
<div class="r" style="left:489.00px;top:224.08px;width:93.80px;height:15.44px;background:linear-gradient(90deg,#8000ff 0%,#6d1dff 4.787%,#4d4ffc 9.574%,#2f79f7 18.62%,#1996f3 28.19%,#1c93f3 42.55%,#2489f5 55.85%,#2587f5 89.89%,#2982f6 100%)"></div>
<div class="r" style="left:489.00px;top:238.92px;width:93.80px;height:15.44px;background:linear-gradient(90deg,#8000ff 0%,#6b20fe 5.851%,#5444fd 11.17%,#3c67f9 19.68%,#2982f6 31.91%,#2b7ff6 52.13%,#2e7bf7 67.55%,#3079f7 93.62%,#3374f8 100%)"></div>
<div class="r" style="left:489.00px;top:253.76px;width:93.80px;height:15.44px;background:linear-gradient(90deg,#8000ff 0%,#7314ff 5.851%,#593cfd 12.23%,#4160fa 22.34%,#3374f8 35.64%,#3571f8 57.98%,#386df9 70.74%,#386df9 100%)"></div>
<div class="r" style="left:489.00px;top:268.60px;width:93.80px;height:15.44px;background:linear-gradient(90deg,#8000ff 0%,#770dff 6.915%,#4062fa 34.57%,#3374f8 64.36%,#3374f8 100%)"></div>
<div class="r" style="left:489.00px;top:283.44px;width:93.80px;height:15.44px;background:linear-gradient(90deg,#8000ff 0%,#770dff 6.915%,#5542fd 25.53%,#4758fb 35.11%,#3d65fa 64.89%,#3d65fa 100%)"></div>
<div class="r" style="left:489.00px;top:298.28px;width:93.80px;height:15.44px;background:linear-gradient(90deg,#8000ff 0%,#770dff 6.915%,#5a3afd 22.87%,#4e4dfc 35.64%,#4756fb 67.02%,#4756fb 100%)"></div>
<div class="r" style="left:489.00px;top:313.12px;width:93.80px;height:15.44px;background:linear-gradient(90deg,#8000ff 0%,#770dff 6.915%,#5b3afd 22.87%,#5148fc 37.77%,#4c4ffc 72.34%,#4c4ffc 100%)"></div>
<div class="r" style="left:489.00px;top:327.96px;width:93.80px;height:15.44px;background:linear-gradient(90deg,#8000ff 0%,#770dff 6.915%,#5c38fd 21.81%,#5443fd 39.36%,#5247fc 88.83%,#5247fc 100%)"></div>
<div class="r" style="left:489.00px;top:342.80px;width:93.80px;height:15.60px;background:linear-gradient(90deg,#8000ff 0%,#780bff 9.574%,#5247fc 29.79%,#3a6af9 43.62%,#3078f7 69.15%,#2b7ef6 100%)"></div>
<div class="r" style="left:587.50px;top:30.85px;width:96.60px;height:13.90px;background:linear-gradient(90deg,#5c38fd 0%,#583dfd 0.5181%,#593cfd 1.036%,#5f32fe 1.554%,#5f33fe 2.073%,#4f4cfc 3.109%,#4a52fc 3.627%,#4e4dfc 4.145%,#5d37fe 5.181%,#5c37fd 5.699%,#4c50fc 6.736%,#4756fb 7.254%,#4b51fc 7.772%,#5a3bfd 8.808%,#593cfd 9.326%,#4955fb 10.36%,#445bfb 10.88%,#4855fb 11.4%,#5740fd 12.44%,#5640fd 12.95%,#4e4cfc 13.47%,#4160fa 13.99%,#396bf9 14.51%,#3a6af9 15.54%,#3e64fa 16.06%,#386cf9 17.1%,#3374f8 17.62%,#3077f7 18.13%,#3b68f9 19.69%,#3b69f9 20.21%,#3177f8 21.24%,#2e7af7 21.76%,#396bf9 23.32%,#396cf9 23.83%,#2f7af7 24.87%,#2c7df7 25.39%,#376ef9 26.94%,#3275f8 27.98%,#2c7df7 28.5%,#2a80f6 29.02%,#3571f8 30.57%,#3472f8 31.09%,#2a80f6 32.12%,#2883f6 32.64%,#3374f8 34.2%,#3275f8 34.72%,#2883f6 35.75%,#2686f5 36.27%,#3077f7 37.82%,#3078f7 38.34%,#2686f5 39.38%,#2685f5 40.41%,#2e7af7 41.45%,#2e7bf7 41.97%,#2488f5 43.01%,#2587f5 44.04%,#2d7cf7 45.08%,#2c7df7 45.6%,#218cf4 47.15%,#2c7ef7 48.7%,#2784f6 49.74%,#228bf4 50.26%,#228af5 51.3%,#2b7ff6 52.33%,#2a80f6 52.85%,#218df4 53.89%,#218cf4 54.92%,#2981f6 55.96%,#2488f5 56.99%,#1e90f4 58.03%,#2883f6 59.59%,#2389f5 60.62%,#1d92f3 61.66%,#2784f6 63.21%,#228bf4 64.25%,#1b93f3 65.28%,#2686f5 66.84%,#2587f5 67.36%,#1c93f3 68.39%,#1d92f3 69.43%,#2488f5 70.47%,#2489f5 70.98%,#1996f2 72.54%,#2389f5 74.09%,#1f8ff4 75.13%,#1997f2 76.17%,#238af5 77.72%,#1e90f4 78.76%,#1898f2 79.79%,#228bf5 81.35%,#1d91f3 82.38%,#1799f2 83.42%,#218cf4 84.97%,#1c92f3 86.01%,#1799f2 87.05%,#218df4 88.6%,#1c93f3 89.64%,#169af2 90.67%,#208ef4 92.23%,#1b94f3 93.26%,#159bf2 94.3%,#1f8ff4 95.85%,#1a95f3 96.89%,#159cf1 97.93%,#1f8ff4 99.48%,#1e91f4 100%)"></div>
<div class="r" style="left:587.50px;top:44.15px;width:96.60px;height:15.60px;background:linear-gradient(90deg,#7510ff 0%,#6628fe 3.627%,#3f62fa 4.145%,#1996f3 4.663%,#1996f2 6.736%,#01b3ec 7.772%,#12c7e6 8.29%,#29dbde 9.326%,#23d6e0 9.845%,#02b7eb 10.88%,#09aaee 11.4%,#08abee 11.92%,#03b8eb 12.44%,#23d7e0 13.47%,#29dbde 13.99%,#22d6e0 14.51%,#02b7eb 15.54%,#08abee 16.06%,#08abee 16.58%,#03b8eb 17.1%,#23d7e0 18.13%,#28dbde 18.65%,#22d6e0 19.17%,#02b7eb 20.21%,#08abee 20.73%,#08abee 21.24%,#04b8eb 21.76%,#23d7e0 22.8%,#28dbde 23.32%,#22d6e0 23.83%,#02b7eb 24.87%,#08abee 25.39%,#07acee 25.91%,#04b9ea 26.42%,#14cae5 26.94%,#23d6e0 27.46%,#28dbde 27.98%,#21d5e0 28.5%,#02b7eb 29.53%,#08abee 30.05%,#07acee 30.57%,#04b9ea 31.09%,#15cae5 31.61%,#23d6e0 32.12%,#27dade 32.64%,#21d5e0 33.16%,#02b7eb 34.2%,#08acee 34.72%,#07adee 35.23%,#04b9ea 35.75%,#22d6e0 36.79%,#27dade 37.31%,#21d5e1 37.82%,#02b7eb 38.86%,#07acee 39.38%,#07adee 39.9%,#05b9ea 40.41%,#22d6e0 41.45%,#27dade 41.97%,#20d5e1 42.49%,#02b7eb 43.52%,#07acee 44.04%,#06aded 44.56%,#05baea 45.08%,#22d6e0 46.11%,#27dade 46.63%,#20d4e1 47.15%,#02b7eb 48.19%,#07acee 48.7%,#06aeed 49.22%,#05baea 49.74%,#22d6e0 50.78%,#26dade 51.3%,#20d4e1 51.81%,#02b7eb 52.85%,#07adee 53.37%,#06aeed 53.89%,#05baea 54.4%,#22d6e0 55.44%,#26d9df 55.96%,#20d4e1 56.48%,#02b7eb 57.51%,#07adee 58.03%,#05aeed 58.55%,#06baea 59.07%,#22d6e0 60.1%,#26d9df 60.62%,#1fd4e1 61.14%,#02b7eb 62.18%,#06aded 62.69%,#05afed 63.21%,#06bbea 63.73%,#22d6e0 64.77%,#26d9df 65.28%,#1fd3e1 65.8%,#02b7eb 66.84%,#06aded 67.36%,#05afed 67.88%,#06bbea 68.39%,#22d5e0 69.43%,#25d9df 69.95%,#1fd3e1 70.47%,#02b7eb 71.5%,#06aeed 72.02%,#04afed 72.54%,#06bbea 73.06%,#21d5e0 74.09%,#25d8df 74.61%,#1ed3e1 75.13%,#02b7eb 76.17%,#06aeed 76.68%,#04b0ed 77.2%,#07bbea 77.72%,#21d5e0 78.76%,#25d8df 79.27%,#1ed3e2 79.79%,#03b7eb 80.83%,#06aeed 81.35%,#04b0ed 81.87%,#07bce9 82.38%,#21d5e0 83.42%,#24d8df 83.94%,#1ed2e2 84.46%,#03b7eb 85.49%,#05aeed 86.01%,#04b0ed 86.53%,#07bce9 87.05%,#15cbe5 87.56%,#21d5e0 88.08%,#24d8df 88.6%,#1ed2e2 89.12%,#03b7eb 90.16%,#05afed 90.67%,#03b1ed 91.19%,#07bce9 91.71%,#16cbe5 92.23%,#21d5e1 92.75%,#24d7df 93.26%,#1dd2e2 93.78%,#03b7eb 94.82%,#05afed 95.34%,#03b1ec 95.85%,#07bce9 96.37%,#21d5e1 97.41%,#24d7df 97.93%,#1dd2e2 98.45%,#03b7eb 99.48%,#05afed 100%)"></div>
<div class="r" style="left:587.50px;top:59.15px;width:96.60px;height:15.60px;background:linear-gradient(90deg,#7510ff 0%,#6628fe 3.627%,#3f62fa 4.145%,#1996f3 4.663%,#1996f2 10.36%,#09abee 10.88%,#08bde9 11.4%,#29dbde 12.44%,#29dcdd 15.54%,#52f5cc 17.1%,#6efebe 18.13%,#6ffebd 21.24%,#4df3ce 23.83%,#4af1d0 25.91%,#43edd3 26.94%,#46efd1 27.46%,#50f4cd 27.98%,#60fac5 28.5%,#6afdc0 29.02%,#6dfdbf 29.53%,#65fcc2 31.61%,#79ffb8 33.16%,#7affb7 33.68%,#69fdc0 34.72%,#54f6cb 35.75%,#53f6cb 36.27%,#6efdbe 37.82%,#71febc 38.34%,#64fbc3 39.38%,#55f6ca 40.41%,#56f7ca 40.93%,#70febd 42.49%,#73febb 43.01%,#66fcc2 44.04%,#57f7c9 45.08%,#58f8c9 45.6%,#6ffebd 47.15%,#6ffebd 47.67%,#69fcc1 48.19%,#48f0d0 49.74%,#4bf2cf 50.78%,#58f8c9 51.81%,#5af8c8 52.33%,#55f6ca 52.85%,#39e8d7 54.4%,#39e7d7 54.92%,#4ff4cd 56.48%,#51f4cc 56.99%,#43eed2 58.03%,#34e4d9 59.07%,#34e4d9 59.59%,#4cf2ce 61.14%,#4ff4cd 61.66%,#41edd3 62.69%,#32e3da 63.73%,#33e3d9 64.25%,#4bf2cf 65.8%,#4df3ce 66.32%,#40ecd4 67.36%,#36e6d8 67.88%,#31e2da 68.39%,#38e7d7 69.43%,#49f1d0 70.47%,#4bf2cf 70.98%,#3eead5 72.02%,#2fe0db 73.06%,#30e1db 73.58%,#47f0d1 75.13%,#49f1d0 75.65%,#3ce9d6 76.68%,#2edfdc 77.72%,#35e5d9 78.76%,#45efd2 79.79%,#47f0d1 80.31%,#43eed3 80.83%,#31e2da 81.87%,#2cdedc 82.38%,#2ddfdc 82.9%,#44eed2 84.46%,#46efd1 84.97%,#2bdddd 87.05%,#32e3da 88.08%,#42edd3 89.12%,#44eed2 89.64%,#29dcdd 91.71%,#2adddd 92.23%,#40ecd4 93.78%,#42edd3 94.3%,#35e5d9 95.34%,#28dbde 96.37%,#29dbde 96.89%,#3eebd5 98.45%,#40ecd4 98.96%,#3ce9d6 99.48%,#33e4d9 100%)"></div>
<div class="r" style="left:587.50px;top:74.15px;width:96.60px;height:15.60px;background:linear-gradient(90deg,#7510ff 0%,#6e1cff 1.036%,#6628fe 2.073%,#3f62fa 2.591%,#1996f3 3.109%,#1996f3 6.218%,#0fa3f0 6.736%,#19cee3 7.254%,#19cee3 9.326%,#0cc1e8 9.845%,#0da6ef 10.36%,#1996f3 10.88%,#1996f2 13.99%,#10a2f0 14.51%,#01b5eb 15.03%,#13c9e5 15.54%,#23d7e0 16.06%,#29dbde 16.58%,#29dbde 19.69%,#1bd0e3 20.21%,#01b3ec 20.73%,#1d91f3 21.24%,#2982f6 21.76%,#2982f6 24.87%,#1897f2 25.39%,#0abfe9 25.91%,#2adddd 26.42%,#38e7d7 26.94%,#38e7d7 34.2%,#21d5e0 34.72%,#1dd1e2 35.23%,#2edfdb 35.75%,#38e7d7 36.27%,#38e7d7 43.01%,#2ddfdc 43.52%,#17cce4 44.04%,#00b4ec 44.56%,#0ea4f0 45.08%,#0ba7ef 45.6%,#05b9ea 46.11%,#18cde4 46.63%,#27dade 47.15%,#29dbde 52.85%,#0fc5e7 53.89%,#23d7e0 54.92%,#29dbde 55.44%,#28dbde 60.1%,#1acee3 60.62%,#29dbde 62.18%,#27dade 67.36%,#19cee3 67.88%,#06bbea 68.39%,#0aa9ee 68.91%,#0fa3f0 69.43%,#0ba8ef 69.95%,#01b3ec 70.47%,#14c9e5 71.5%,#19cee3 72.02%,#19cee3 76.68%,#15cae5 77.2%,#01b6eb 78.24%,#0fa3f0 79.27%,#0da5ef 79.79%,#04b0ed 80.31%,#0abfe8 80.83%,#16cbe5 81.35%,#19cee3 83.94%,#0abfe8 84.46%,#0aa9ee 84.97%,#0fa3f0 85.49%,#02b7eb 86.53%,#17cce4 87.56%,#19cee3 93.26%,#13c8e6 93.78%,#07bbea 94.3%,#06aded 94.82%,#0ea4f0 95.34%,#0da5ef 95.85%,#01b3ec 96.37%,#0bc0e8 96.89%,#0fc4e7 97.93%,#0fc4e7 100%)"></div>
<div class="r" style="left:587.50px;top:89.15px;width:96.60px;height:15.60px;background:linear-gradient(90deg,#7510ff 0%,#6628fe 2.073%,#4061fa 2.591%,#1b94f3 3.109%,#0abfe8 3.627%,#0abfe8 6.218%,#03b1ec 6.736%,#4160fa 7.772%,#4c4ffc 8.29%,#4c50fc 10.88%,#1e91f3 11.92%,#06aded 12.44%,#11c6e6 12.95%,#19cee3 13.47%,#19cee3 16.06%,#04b9ea 16.58%,#10a1f0 17.1%,#3a6af9 18.13%,#3d65fa 19.17%,#3d65fa 20.73%,#3670f8 21.24%,#1798f2 21.76%,#07bce9 22.28%,#25d9df 22.8%,#42edd3 23.32%,#42edd3 27.46%,#33e3d9 27.98%,#13c8e6 28.5%,#0ea4f0 29.02%,#1996f3 29.53%,#1996f3 31.09%,#10a2f0 31.61%,#05b9ea 32.12%,#2ee0db 33.16%,#3dead5 33.68%,#3cead5 37.31%,#29dcdd 38.34%,#27dade 38.86%,#3dead5 40.41%,#3dead5 44.56%,#2adcdd 46.11%,#2adcdd 47.67%,#22d6e0 48.7%,#26d9df 49.74%,#30e1db 50.78%,#2fe1db 51.81%,#23d7e0 53.37%,#27dade 54.4%,#31e2da 55.44%,#30e1db 56.48%,#24d7df 58.03%,#28dbde 59.07%,#32e2da 60.1%,#31e2da 61.14%,#25d8df 62.69%,#29dcdd 63.73%,#33e3da 64.77%,#32e2da 65.8%,#25d9df 67.36%,#2fe0db 68.91%,#35e5d9 69.95%,#26d9df 72.02%,#2bdddd 73.06%,#3eead5 74.61%,#3eead5 75.65%,#36e5d8 76.68%,#3ae8d6 77.72%,#3eebd5 78.76%,#35e5d8 79.79%,#24d8df 80.83%,#22d6e0 81.87%,#30e1da 83.94%,#21d5e0 86.01%,#30e1da 88.6%,#21d5e0 90.67%,#2bdddd 92.23%,#30e1da 93.26%,#21d5e0 95.34%,#30e1da 97.93%,#21d5e0 100%)"></div>
<div class="r" style="left:587.50px;top:104.15px;width:96.60px;height:15.60px;background:linear-gradient(90deg,#7510ff 0%,#6628fe 2.073%,#2686f5 2.591%,#00b4ec 3.109%,#00b4ec 6.218%,#07acee 6.736%,#3b68f9 8.29%,#4c4ffc 8.808%,#4c4ffc 11.4%,#435dfb 11.92%,#1798f2 12.95%,#0fa3f0 13.47%,#0fa3f0 22.28%,#139ef1 22.8%,#3374f8 24.87%,#3374f8 27.46%,#2b7ff6 27.98%,#06aded 29.02%,#0cc1e8 29.53%,#19cee3 30.05%,#18cde4 34.2%,#09bee9 34.72%,#06aeed 35.23%,#2488f5 36.27%,#2982f6 36.79%,#2784f6 39.38%,#06aded 40.41%,#0abfe8 40.93%,#19cee3 41.45%,#19cee3 44.56%,#0abfe8 46.11%,#08bde9 58.03%,#00b4ec 59.59%,#0aa9ef 63.21%,#00b5eb 64.77%,#00b4ec 65.8%,#0aa9ef 67.36%,#07adee 68.39%,#01b6eb 69.43%,#00b5eb 70.47%,#0aa9ee 72.02%,#02b6eb 74.09%,#01b5eb 75.13%,#09aaee 76.68%,#01b3ec 78.24%,#03b8eb 79.27%,#02b2ec 80.31%,#08abee 81.35%,#05afed 82.38%,#00b4ec 82.9%,#04b9ea 83.94%,#02b3ec 84.97%,#08abee 86.01%,#00b5ec 87.56%,#05b9ea 88.6%,#01b3ec 89.64%,#07acee 90.67%,#01b5eb 92.23%,#05baea 93.26%,#00b4ec 94.3%,#07adee 95.34%,#01b6eb 96.89%,#06bbea 97.93%,#00b4ec 98.96%,#06aeed 100%)"></div>
<div class="r" style="left:587.50px;top:119.15px;width:96.60px;height:15.60px;background:linear-gradient(90deg,#7510ff 0%,#6130fe 1.554%,#1a95f3 2.591%,#05afed 3.109%,#00b4ec 7.254%,#1996f3 9.326%,#1a96f3 13.47%,#3374f8 15.54%,#3275f8 19.69%,#0ca7ef 20.73%,#07bce9 21.24%,#19cee3 21.76%,#19cee3 25.39%,#00b4ec 26.42%,#1c93f3 27.46%,#2488f5 27.98%,#2883f6 37.31%,#03b1ec 38.86%,#09bee9 39.38%,#16cbe5 39.9%,#19cee3 43.01%,#18cde4 43.52%,#00b4ec 44.56%,#2489f5 46.11%,#2389f5 51.81%,#05afed 54.92%,#01b6eb 75.65%,#04b8eb 84.97%,#01b3ec 88.08%,#04b0ed 93.26%,#00b4ec 100%)"></div>
<div class="r" style="left:587.50px;top:134.15px;width:96.60px;height:15.60px;background:linear-gradient(90deg,#7510ff 0%,#6130fe 1.554%,#3374f8 3.109%,#1996f3 4.145%,#1996f2 9.326%,#02b7eb 10.36%,#0fc4e7 10.88%,#0fc4e7 12.95%,#01b5eb 13.99%,#1f8ff4 16.06%,#3275f8 18.13%,#3374f8 25.39%,#08acee 27.46%,#04b8ea 27.98%,#19cee3 29.02%,#19cee3 32.64%,#07bce9 33.68%,#04b0ed 34.2%,#2489f5 35.75%,#2389f5 45.6%,#05afed 48.7%,#05aeed 54.92%,#1996f3 58.03%,#1898f2 66.84%,#0fa3f0 69.95%,#11a1f0 78.24%,#1a95f3 82.9%,#1f8ff4 100%)"></div>
<div class="r" style="left:587.50px;top:149.15px;width:96.60px;height:15.60px;background:linear-gradient(90deg,#7a08ff 0%,#6628fe 2.073%,#3374f8 4.145%,#1996f3 5.699%,#1996f2 9.845%,#01b3ec 10.88%,#0abfe8 11.4%,#0abfe8 14.51%,#01b5eb 15.03%,#1996f3 16.58%,#1a95f3 21.24%,#3d65fa 23.32%,#3d66fa 31.09%,#1996f2 34.2%,#02b2ec 37.31%,#05baea 38.34%,#05b9ea 43.01%,#00b4ec 43.52%,#2982f6 47.67%,#2982f6 57.51%,#149cf1 62.18%,#159cf1 69.43%,#2982f6 73.58%,#2784f6 87.56%,#1f8ff4 91.71%,#1f8ff4 100%)"></div>
<div class="r" style="left:587.50px;top:164.15px;width:96.60px;height:15.60px;background:linear-gradient(90deg,#7a08ff 0%,#7018ff 1.554%,#425efa 5.181%,#2982f6 8.29%,#00b4ec 10.88%,#00b4ec 14.51%,#2489f5 16.58%,#2982f6 18.65%,#0fa3f0 20.73%,#10a2f0 23.32%,#376ff9 25.39%,#3d66fa 34.72%,#3d66fa 35.75%,#1f8ff4 38.34%,#0fa2f0 45.6%,#1a95f3 51.81%,#3374f8 55.96%,#386df9 69.43%,#2489f5 72.54%,#2488f5 83.94%,#3374f8 88.6%,#3374f8 100%)"></div>
<div class="r" style="left:587.50px;top:179.15px;width:96.60px;height:15.60px;background:linear-gradient(90deg,#7a08ff 0%,#7018ff 2.073%,#4953fb 5.181%,#3d65fa 6.218%,#2784f6 9.845%,#1e8ff4 13.47%,#05afed 16.58%,#05aeed 22.8%,#1f8ff4 25.91%,#2685f5 30.57%,#3374f8 33.16%,#3374f8 40.41%,#1d92f3 46.63%,#159bf2 52.33%,#228bf5 58.55%,#3374f8 63.21%,#3176f8 75.65%,#2489f5 81.35%,#2587f5 91.71%,#2e7bf7 95.85%,#2e7bf7 100%)"></div>
<div class="r" style="left:587.50px;top:194.15px;width:96.60px;height:15.60px;background:linear-gradient(90deg,#8000ff 0%,#7116ff 2.591%,#4b51fc 7.772%,#2982f6 13.47%,#1b94f3 19.69%,#0fa3f0 23.32%,#10a2f0 31.09%,#2b7ff6 34.72%,#386df9 38.86%,#376ff9 48.19%,#2489f5 55.44%,#2488f5 65.28%,#3374f8 69.95%,#3176f8 86.53%,#2e7bf7 95.85%,#2e7bf7 100%)"></div>
<div class="r" style="left:587.50px;top:209.15px;width:96.60px;height:15.60px;background:linear-gradient(90deg,#8000ff 0%,#7215ff 3.109%,#5d36fe 7.254%,#228af5 20.73%,#149cf1 23.83%,#169af2 34.72%,#386df9 46.11%,#376ef9 58.03%,#2e7bf7 62.69%,#2f79f7 75.13%,#386df9 81.87%,#386df9 100%)"></div>
<div class="r" style="left:587.50px;top:224.15px;width:96.60px;height:15.60px;background:linear-gradient(90deg,#8000ff 0%,#4b51fc 13.99%,#2489f5 28.5%,#2587f5 37.82%,#3078f7 46.63%,#3472f8 63.73%,#386df9 100%)"></div>
<div class="r" style="left:587.50px;top:239.15px;width:96.60px;height:15.60px;background:linear-gradient(90deg,#8000ff 0%,#7216ff 5.699%,#5c38fd 12.44%,#2e7bf7 31.61%,#3078f7 46.63%,#396cf9 66.84%,#3d65fa 100%)"></div>
<div class="r" style="left:587.50px;top:254.15px;width:96.60px;height:15.60px;background:linear-gradient(90deg,#8000ff 0%,#632cfe 12.44%,#5149fc 21.76%,#386df9 34.72%,#3d65fa 100%)"></div>
<div class="r" style="left:587.50px;top:269.15px;width:96.60px;height:15.60px;background:linear-gradient(90deg,#8000ff 0%,#7313ff 11.4%,#4659fb 40.41%,#386df9 65.28%,#386df9 100%)"></div>
<div class="r" style="left:587.50px;top:284.15px;width:96.60px;height:15.60px;background:linear-gradient(90deg,#8000ff 0%,#7313ff 11.4%,#5d35fe 25.91%,#4d4efc 41.97%,#425efa 65.28%,#425efa 100%)"></div>
<div class="r" style="left:587.50px;top:299.15px;width:96.60px;height:15.60px;background:linear-gradient(90deg,#8000ff 0%,#7313ff 11.4%,#6031fe 23.83%,#4f4bfc 56.48%,#4c4ffc 71.5%,#4c4ffc 100%)"></div>
<div class="r" style="left:587.50px;top:314.15px;width:96.60px;height:15.60px;background:linear-gradient(90deg,#8000ff 0%,#7313ff 11.4%,#6130fe 23.32%,#5247fc 65.28%,#5247fc 100%)"></div>
<div class="r" style="left:587.50px;top:329.15px;width:96.60px;height:15.60px;background:linear-gradient(90deg,#8000ff 0%,#7313ff 11.4%,#6130fe 23.32%,#5b38fd 49.22%,#573ffd 66.84%,#573ffd 100%)"></div>
<div class="r" style="left:587.50px;top:344.15px;width:96.60px;height:14.90px;background:linear-gradient(90deg,#8000ff 0%,#780bff 13.47%,#415ffa 42.49%,#2f79f7 65.28%,#2784f6 93.78%,#2685f5 100%)"></div>
<div class="r" style="left:693.10px;top:39.20px;width:15.15px;height:313.30px;background:linear-gradient(180deg,#ff2312 0%,#ff6c37 10%,#ff9d53 17.5%,#ffb361 21.25%,#dcd77a 28.75%,#bded8f 35%,#99fca6 42.5%,#7affb7 48.75%,#5cf9c7 55%,#3dead5 61.25%,#19cee3 68.75%,#00b5eb 73.75%,#3078f7 83.75%,#6130fe 93.75%,#8000ff 100%)"></div>
<svg class="ov" width="738" height="444" viewBox="0 0 738 444">
<g stroke="#111" stroke-width="0.9" fill="none">
<line x1="60.7" x2="63.5" y1="37.11" y2="37.11" stroke-width="0.8"/>
<line x1="60.7" x2="63.5" y1="52.12" y2="52.12" stroke-width="0.8"/>
<line x1="60.7" x2="63.5" y1="67.13" y2="67.13" stroke-width="0.8"/>
<line x1="60.7" x2="63.5" y1="82.15" y2="82.15" stroke-width="0.8"/>
<line x1="60.7" x2="63.5" y1="97.16" y2="97.16" stroke-width="0.8"/>
<line x1="60.7" x2="63.5" y1="112.17" y2="112.17" stroke-width="0.8"/>
<line x1="60.7" x2="63.5" y1="127.19" y2="127.19" stroke-width="0.8"/>
<line x1="60.7" x2="63.5" y1="142.20" y2="142.20" stroke-width="0.8"/>
<line x1="60.7" x2="63.5" y1="157.22" y2="157.22" stroke-width="0.8"/>
<line x1="60.7" x2="63.5" y1="172.23" y2="172.23" stroke-width="0.8"/>
<line x1="60.7" x2="63.5" y1="187.24" y2="187.24" stroke-width="0.8"/>
<line x1="60.7" x2="63.5" y1="202.26" y2="202.26" stroke-width="0.8"/>
<line x1="60.7" x2="63.5" y1="217.27" y2="217.27" stroke-width="0.8"/>
<line x1="60.7" x2="63.5" y1="232.28" y2="232.28" stroke-width="0.8"/>
<line x1="60.7" x2="63.5" y1="247.30" y2="247.30" stroke-width="0.8"/>
<line x1="60.7" x2="63.5" y1="262.31" y2="262.31" stroke-width="0.8"/>
<line x1="60.7" x2="63.5" y1="277.32" y2="277.32" stroke-width="0.8"/>
<line x1="60.7" x2="63.5" y1="292.34" y2="292.34" stroke-width="0.8"/>
<line x1="60.7" x2="63.5" y1="307.35" y2="307.35" stroke-width="0.8"/>
<line x1="60.7" x2="63.5" y1="322.37" y2="322.37" stroke-width="0.8"/>
<line x1="60.7" x2="63.5" y1="337.38" y2="337.38" stroke-width="0.8"/>
<line x1="60.7" x2="63.5" y1="352.39" y2="352.39" stroke-width="0.8"/>
<line x1="278.90" x2="280.40" y1="37.81" y2="37.81" stroke-width="0.8" stroke="#333"/>
<line x1="278.90" x2="280.40" y1="52.82" y2="52.82" stroke-width="0.8" stroke="#333"/>
<line x1="278.90" x2="280.40" y1="67.84" y2="67.84" stroke-width="0.8" stroke="#333"/>
<line x1="278.90" x2="280.40" y1="82.86" y2="82.86" stroke-width="0.8" stroke="#333"/>
<line x1="278.90" x2="280.40" y1="97.87" y2="97.87" stroke-width="0.8" stroke="#333"/>
<line x1="278.90" x2="280.40" y1="112.89" y2="112.89" stroke-width="0.8" stroke="#333"/>
<line x1="278.90" x2="280.40" y1="127.90" y2="127.90" stroke-width="0.8" stroke="#333"/>
<line x1="278.90" x2="280.40" y1="142.92" y2="142.92" stroke-width="0.8" stroke="#333"/>
<line x1="278.90" x2="280.40" y1="157.94" y2="157.94" stroke-width="0.8" stroke="#333"/>
<line x1="278.90" x2="280.40" y1="172.95" y2="172.95" stroke-width="0.8" stroke="#333"/>
<line x1="278.90" x2="280.40" y1="187.97" y2="187.97" stroke-width="0.8" stroke="#333"/>
<line x1="278.90" x2="280.40" y1="202.98" y2="202.98" stroke-width="0.8" stroke="#333"/>
<line x1="278.90" x2="280.40" y1="218.00" y2="218.00" stroke-width="0.8" stroke="#333"/>
<line x1="278.90" x2="280.40" y1="233.01" y2="233.01" stroke-width="0.8" stroke="#333"/>
<line x1="278.90" x2="280.40" y1="248.03" y2="248.03" stroke-width="0.8" stroke="#333"/>
<line x1="278.90" x2="280.40" y1="263.05" y2="263.05" stroke-width="0.8" stroke="#333"/>
<line x1="278.90" x2="280.40" y1="278.06" y2="278.06" stroke-width="0.8" stroke="#333"/>
<line x1="278.90" x2="280.40" y1="293.08" y2="293.08" stroke-width="0.8" stroke="#333"/>
<line x1="278.90" x2="280.40" y1="308.09" y2="308.09" stroke-width="0.8" stroke="#333"/>
<line x1="278.90" x2="280.40" y1="323.11" y2="323.11" stroke-width="0.8" stroke="#333"/>
<line x1="278.90" x2="280.40" y1="338.13" y2="338.13" stroke-width="0.8" stroke="#333"/>
<line x1="278.90" x2="280.40" y1="353.14" y2="353.14" stroke-width="0.8" stroke="#333"/>
<line x1="280.1" x2="376.2" y1="30.45" y2="30.45" stroke="#444" stroke-width="0.6" opacity="0.55"/>
<line x1="63.40" x2="63.40" y1="359.90" y2="362.90"/>
<line x1="87.60" x2="87.60" y1="359.90" y2="362.10"/>
<line x1="111.80" x2="111.80" y1="359.90" y2="362.90"/>
<line x1="136.00" x2="136.00" y1="359.90" y2="362.10"/>
<line x1="160.20" x2="160.20" y1="359.90" y2="362.90"/>
<line x1="167.00" x2="167.00" y1="362.20" y2="365.20"/>
<line x1="191.50" x2="191.50" y1="362.20" y2="364.40"/>
<line x1="216.00" x2="216.00" y1="362.20" y2="365.20"/>
<line x1="240.50" x2="240.50" y1="362.20" y2="364.40"/>
<line x1="265.00" x2="265.00" y1="362.20" y2="365.20"/>
<line x1="280.10" x2="280.10" y1="360.95" y2="363.95"/>
<line x1="304.12" x2="304.12" y1="360.95" y2="363.15"/>
<line x1="328.15" x2="328.15" y1="360.95" y2="363.95"/>
<line x1="352.18" x2="352.18" y1="360.95" y2="363.15"/>
<line x1="376.20" x2="376.20" y1="360.95" y2="363.95"/>
<line x1="381.10" x2="381.10" y1="360.50" y2="363.50"/>
<line x1="404.88" x2="404.88" y1="360.50" y2="362.70"/>
<line x1="428.65" x2="428.65" y1="360.50" y2="363.50"/>
<line x1="452.43" x2="452.43" y1="360.50" y2="362.70"/>
<line x1="476.20" x2="476.20" y1="360.50" y2="363.50"/>
<line x1="489.00" x2="489.00" y1="358.70" y2="361.70"/>
<line x1="512.45" x2="512.45" y1="358.70" y2="360.90"/>
<line x1="535.90" x2="535.90" y1="358.70" y2="361.70"/>
<line x1="559.35" x2="559.35" y1="358.70" y2="360.90"/>
<line x1="582.80" x2="582.80" y1="358.70" y2="361.70"/>
<line x1="587.50" x2="587.50" y1="359.35" y2="362.35"/>
<line x1="611.65" x2="611.65" y1="359.35" y2="361.55"/>
<line x1="635.80" x2="635.80" y1="359.35" y2="362.35"/>
<line x1="659.95" x2="659.95" y1="359.35" y2="361.55"/>
<line x1="684.10" x2="684.10" y1="359.35" y2="362.35"/>
<line x1="708.3" x2="710.8" y1="352.70" y2="352.70"/>
<line x1="708.3" x2="710.8" y1="287.05" y2="287.05"/>
<line x1="708.3" x2="710.8" y1="221.40" y2="221.40"/>
<line x1="708.3" x2="710.8" y1="155.75" y2="155.75"/>
<line x1="708.3" x2="710.8" y1="90.10" y2="90.10"/>
</g>
<g font-family="'Liberation Serif', serif" font-size="16.6" fill="#111">
<text x="55.6" y="44.01" text-anchor="end" font-size="17.3">0</text>
<text x="55.6" y="74.03" text-anchor="end" font-size="17.3">20</text>
<text x="55.6" y="104.06" text-anchor="end" font-size="17.3">40</text>
<text x="55.6" y="134.09" text-anchor="end" font-size="17.3">60</text>
<text x="55.6" y="164.12" text-anchor="end" font-size="17.3">80</text>
<text x="55.6" y="194.14" text-anchor="end" font-size="17.3">100</text>
<text x="55.6" y="224.17" text-anchor="end" font-size="17.3">120</text>
<text x="55.6" y="254.20" text-anchor="end" font-size="17.3">140</text>
<text x="55.6" y="284.22" text-anchor="end" font-size="17.3">160</text>
<text x="55.6" y="314.25" text-anchor="end" font-size="17.3">180</text>
<text x="55.6" y="344.28" text-anchor="end" font-size="17.3">200</text>
<text transform="translate(17.2,240.8) rotate(-90)" textLength="94.4" lengthAdjust="spacingAndGlyphs">distance (Å)</text>
<text x="146.4" y="15.9" font-size="18.4" textLength="36.6" lengthAdjust="spacingAndGlyphs"><tspan font-style="italic">α</tspan>-84</text>
<text x="358.6" y="15.9" font-size="18.4"><tspan font-style="italic">β</tspan>-84</text>
<text x="560.4" y="15.9" font-size="18.4" textLength="44.6" lengthAdjust="spacingAndGlyphs"><tspan font-style="italic">β</tspan>-155</text>
<text transform="translate(77.10,370.4) rotate(-90)" text-anchor="end">0</text>
<text transform="translate(118.30,370.4) rotate(-90)" text-anchor="end">50</text>
<text transform="translate(160.00,370.4) rotate(-90)" text-anchor="end">100</text>
<text transform="translate(181.20,370.4) rotate(-90)" text-anchor="end">0</text>
<text transform="translate(222.90,370.4) rotate(-90)" text-anchor="end">50</text>
<text transform="translate(263.80,370.4) rotate(-90)" text-anchor="end">100</text>
<text transform="translate(293.40,370.4) rotate(-90)" text-anchor="end">0</text>
<text transform="translate(335.10,370.4) rotate(-90)" text-anchor="end">50</text>
<text transform="translate(375.90,370.4) rotate(-90)" text-anchor="end">100</text>
<text transform="translate(393.80,370.4) rotate(-90)" text-anchor="end">0</text>
<text transform="translate(435.50,370.4) rotate(-90)" text-anchor="end">50</text>
<text transform="translate(476.70,370.4) rotate(-90)" text-anchor="end">100</text>
<text transform="translate(501.00,370.4) rotate(-90)" text-anchor="end">0</text>
<text transform="translate(542.10,370.4) rotate(-90)" text-anchor="end">50</text>
<text transform="translate(582.40,370.4) rotate(-90)" text-anchor="end">100</text>
<text transform="translate(598.20,370.4) rotate(-90)" text-anchor="end">0</text>
<text transform="translate(639.90,370.4) rotate(-90)" text-anchor="end">50</text>
<text transform="translate(680.70,370.4) rotate(-90)" text-anchor="end">100</text>
<text x="87.80" y="411.8" textLength="48.5" lengthAdjust="spacingAndGlyphs">aligned</text>
<text x="192.10" y="411.8" textLength="45.0" lengthAdjust="spacingAndGlyphs">rotated</text>
<text x="303.70" y="411.8" textLength="48.7" lengthAdjust="spacingAndGlyphs">aligned</text>
<text x="407.70" y="411.8" textLength="45.1" lengthAdjust="spacingAndGlyphs">rotated</text>
<text x="515.80" y="411.8" textLength="48.5" lengthAdjust="spacingAndGlyphs">aligned</text>
<text x="611.70" y="411.8" textLength="45.0" lengthAdjust="spacingAndGlyphs">rotated</text>
<text x="308.8" y="439.4" textLength="135.2" lengthAdjust="spacingAndGlyphs">simulation time (ps)</text>
<text x="717.1" y="356.10" font-size="17.1">0</text>
<text x="717.1" y="292.85" font-size="17.1">0.2</text>
<text x="717.1" y="227.20" font-size="17.1">0.4</text>
<text x="717.1" y="161.55" font-size="17.1">0.6</text>
<text x="717.1" y="95.90" font-size="17.1">0.8</text>
</g>
</svg>
</div>
</body>
</html>
